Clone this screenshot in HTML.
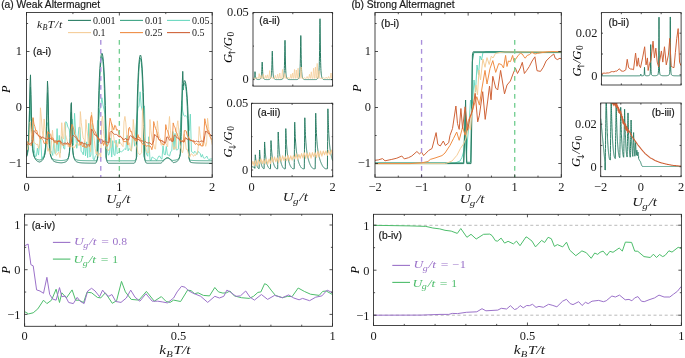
<!DOCTYPE html>
<html><head><meta charset="utf-8"><style>
html,body{margin:0;padding:0;background:#fff;width:685px;height:358px;overflow:hidden;font-family:"Liberation Sans",sans-serif;}
svg{display:block;will-change:transform}
</style></head><body>
<svg width="685" height="358" viewBox="0 0 685 358"><text x="1.2" y="8.2" font-family='"Liberation Sans", sans-serif' font-size="10.25" text-anchor="start" fill="#1a1a1a"  stroke="#1a1a1a" stroke-width="0.2">(a) Weak Altermagnet</text>
<text x="351.4" y="8.2" font-family='"Liberation Sans", sans-serif' font-size="10.25" text-anchor="start" fill="#1a1a1a"  stroke="#1a1a1a" stroke-width="0.2">(b) Strong Altermagnet</text>
<clipPath id="ca1"><rect x="26.5" y="12.5" width="185.7" height="164.8"/></clipPath>
<polyline clip-path="url(#ca1)" points="26.5,148.71 27.59,145.36 28.68,138.4 29.78,99.72 30.87,120.28 31.96,121.6 33.05,118.32 34.15,149.55 35.24,156.52 36.33,156.21 37.42,148.21 38.52,155.08 39.61,143.43 40.7,137.47 41.79,158.78 42.89,156.85 43.98,155.15 45.07,149.3 46.16,143.13 47.25,122.54 48.35,127.03 49.44,134.6 50.53,150.15 51.62,152.34 52.72,155.45 53.81,140.43 54.9,153.59 55.99,152.91 57.09,128.64 58.18,151.39 59.27,135.41 60.36,152.86 61.46,136.67 62.55,140.94 63.64,148.31 64.73,149.07 65.82,121.66 66.92,123.13 68.01,127.6 69.1,128.64 70.19,136.78 71.29,125.69 72.38,119.09 73.47,145.16 74.56,113.29 75.66,133.57 76.75,148.27 77.84,139.9 78.93,127.29 80.03,127.42 81.12,151.44 82.21,152.22 83.3,154.77 84.39,141.57 85.49,155.79 86.58,141.89 87.67,157.63 88.76,123.31 89.86,157.07 90.95,155.08 92.04,124.48 93.13,158.94 94.23,159.88 95.32,156.04 96.41,155.02 97.5,120.71 98.6,119.33 99.69,109.88 100.78,105.79 101.87,97.72 102.96,104.75 104.06,109.65 105.15,114.61 106.24,128.55 107.33,149.91 108.43,155.26 109.52,153.52 110.61,137.93 111.7,157.06 112.8,140.65 113.89,154.7 114.98,155.44 116.07,140.15 117.17,153.8 118.26,152.29 119.35,152.86 120.44,151.27 121.53,151.81 122.63,151.08 123.72,149.73 124.81,148.58 125.9,149.59 127,135.44 128.09,150.91 129.18,148.54 130.27,149.67 131.37,151.19 132.46,134.67 133.55,136.6 134.64,146.23 135.74,129.9 136.83,119.17 137.92,107.37 139.01,106.64 140.1,91.82 141.2,105.88 142.29,110.36 143.38,115.47 144.47,105.87 145.57,149.97 146.66,154.53 147.75,156.24 148.84,136.74 149.94,159.77 151.03,160.59 152.12,156.94 153.21,157.66 154.31,158.46 155.4,158.9 156.49,160.59 157.58,158.55 158.67,156.27 159.77,156.07 160.86,158.39 161.95,159.12 163.04,145.69 164.14,154.36 165.23,154.89 166.32,146.41 167.41,154.76 168.51,155.17 169.6,156.05 170.69,151.6 171.78,150.83 172.88,131.49 173.97,149.49 175.06,133.41 176.15,149.75 177.24,150.06 178.34,148.96 179.43,134.61 180.52,127.43 181.61,100.78 182.71,111.09 183.8,115.55 184.89,116.27 185.98,115.58 187.08,116.75 188.17,124.1 189.26,130.59 190.35,114.12 191.45,151.65 192.54,152.19 193.63,153.39 194.72,151.2 195.81,152.29 196.91,154.56 198,151.49 199.09,152.3 200.18,153.46 201.28,157.13 202.37,154.49 203.46,157.9 204.55,158.21 205.65,157.66 206.74,156 207.83,158.52 208.92,159.77 210.02,158.92 211.11,159.21 212.2,158.35" fill="none" stroke="#6bd9c0" stroke-width="0.9" stroke-linejoin="round" />
<polyline clip-path="url(#ca1)" points="26.5,156.81 27,155.64 27.5,153.89 28,151.13 28.5,146.49 29,138.15 29.5,122.61 29.99,98.27 30.49,87.07 30.99,107.9 31.49,129.56 31.99,141.89 32.49,148.53 32.99,152.32 33.49,154.63 33.99,156.13 34.49,157.15 34.99,157.87 35.49,158.4 35.98,158.8 36.48,159.11 36.98,159.35 37.48,159.54 37.98,159.7 38.48,159.83 38.98,159.94 39.48,160.03 39.98,159.93 40.48,159.8 40.98,159.65 41.48,159.46 41.97,159.22 42.47,158.9 42.97,158.48 43.47,157.92 43.97,157.11 44.47,155.93 44.97,154.1 45.47,151.08 45.97,145.7 46.47,135.37 46.97,115.63 47.47,92.63 47.97,101.71 48.46,126.2 48.96,141.04 49.46,148.61 49.96,152.68 50.46,155.05 50.96,156.54 51.46,157.52 51.96,158.2 52.46,158.69 52.96,159.06 53.46,159.34 53.96,159.55 54.45,159.73 54.95,159.86 55.45,159.98 55.95,160.07 56.45,160.15 56.95,160.22 57.45,160.28 57.95,160.32 58.45,160.37 58.95,160.4 59.45,160.44 59.95,160.47 60.45,160.49 60.94,160.51 61.44,160.51 61.94,160.48 62.44,160.44 62.94,160.4 63.44,160.35 63.94,160.28 64.44,160.21 64.94,160.11 65.44,159.99 65.94,159.83 66.44,159.62 66.93,159.33 67.43,158.93 67.93,158.35 68.43,157.44 68.93,155.95 69.43,153.26 69.93,147.87 70.43,135.94 70.93,113.78 71.43,111.92 71.93,134.35 72.43,147.16 72.92,152.93 73.42,155.77 73.92,157.34 74.42,158.28 74.92,158.89 75.42,159.3 75.92,159.6 76.42,159.81 76.92,159.97 77.42,160.1 77.92,160.2 78.42,160.28 78.92,160.34 79.41,160.4 79.91,160.44 80.41,160.48 80.91,160.51 81.41,160.54 81.91,160.56 82.41,160.58 82.91,160.6 83.41,160.62 83.91,160.63 84.41,160.64 84.91,160.65 85.4,160.66 85.9,160.67 86.4,160.68 86.9,160.69 87.4,160.7 87.9,160.7 88.4,160.71 88.9,160.71 89.4,160.72 89.9,160.72 90.4,160.73 90.9,160.73 91.4,160.73 91.89,160.74 92.39,160.74 92.89,160.74 93.39,160.74 93.89,160.75 94.39,160.75 94.89,160.75 95.39,160.75 95.89,160.76 96.39,160.55 96.89,159.91 97.39,158.86 97.88,157.42 98.38,143.69 98.88,108.93 99.38,90.03 99.88,76.93 100.38,67.66 100.88,61.38 101.38,57.7 101.88,56.43 102.38,57.5 102.88,60.96 103.38,67 103.88,75.99 104.37,88.7 104.87,106.94 105.37,138.59 105.87,157.28 106.37,158.75 106.87,159.83 107.37,160.51 107.87,160.78 108.37,160.78 108.87,160.78 109.37,160.78 109.87,160.78 110.36,160.78 110.86,160.78 111.36,160.78 111.86,160.78 112.36,160.78 112.86,160.78 113.36,160.78 113.86,160.78 114.36,160.79 114.86,160.79 115.36,160.79 115.86,160.79 116.35,160.79 116.85,160.79 117.35,160.79 117.85,160.79 118.35,160.79 118.85,160.79 119.35,160.79 119.85,160.79 120.35,160.79 120.85,160.79 121.35,160.79 121.85,160.79 122.35,160.79 122.84,160.79 123.34,160.79 123.84,160.79 124.34,160.79 124.84,160.79 125.34,160.79 125.84,160.79 126.34,160.79 126.84,160.79 127.34,160.79 127.84,160.79 128.34,160.79 128.83,160.79 129.33,160.79 129.83,160.79 130.33,160.79 130.83,160.79 131.33,160.79 131.83,160.79 132.33,160.79 132.83,160.79 133.33,160.78 133.83,160.78 134.33,160.78 134.82,160.72 135.32,160.26 135.82,159.4 136.32,158.14 136.82,156.49 137.32,120.92 137.82,97.44 138.32,82.13 138.82,71.46 139.32,64.24 139.82,59.91 140.32,58.21 140.82,59.05 141.31,62.48 141.81,68.68 142.31,78.1 142.81,91.65 143.31,111.61 143.81,155.84 144.31,157.63 144.81,159.02 145.31,160.01 145.81,160.61 146.31,160.77 146.81,160.77 147.3,160.77 147.8,160.77 148.3,160.77 148.8,160.77 149.3,160.77 149.8,160.77 150.3,160.76 150.8,160.76 151.3,160.76 151.8,160.76 152.3,160.76 152.8,160.76 153.3,160.76 153.79,160.76 154.29,160.75 154.79,160.75 155.29,160.75 155.79,160.75 156.29,160.75 156.79,160.75 157.29,160.74 157.79,160.74 158.29,160.74 158.79,160.74 159.29,160.73 159.78,160.73 160.28,160.73 160.78,160.72 161.28,160.72 161.78,160.72 162.28,160.59 162.78,160.38 163.28,160.12 163.78,159.81 164.28,159.49 164.78,159.16 165.28,158.86 165.77,158.59 166.27,158.37 166.77,158.22 167.27,158.14 167.77,158.15 168.27,158.23 168.77,158.39 169.27,158.61 169.77,158.88 170.27,159.19 170.77,159.52 171.27,159.84 171.77,160.14 172.26,160.4 172.76,160.42 173.26,160.38 173.76,160.33 174.26,160.28 174.76,160.21 175.26,160.13 175.76,160.02 176.26,159.9 176.76,159.74 177.26,159.54 177.76,159.27 178.25,158.91 178.75,158.4 179.25,157.66 179.75,156.52 180.25,154.67 180.75,151.36 181.25,136.52 181.75,117.09 182.25,98.03 182.75,84.76 183.25,90.06 183.75,85.93 184.25,83.59 184.74,82.92 185.24,83.88 185.74,86.53 186.24,91 186.74,97.55 187.24,106.74 187.74,119.81 188.24,141.97 188.74,157.21 189.24,158.71 189.74,159.8 190.24,160.18 190.73,160.25 191.23,160.31 191.73,160.36 192.23,160.41 192.73,160.44 193.23,160.48 193.73,160.51 194.23,160.53 194.73,160.55 195.23,160.57 195.73,160.59 196.23,160.6 196.72,160.62 197.22,160.63 197.72,160.64 198.22,160.65 198.72,160.66 199.22,160.67 199.72,160.68 200.22,160.68 200.72,160.69 201.22,160.69 201.72,160.7 202.22,160.7 202.72,160.71 203.21,160.71 203.71,160.72 204.21,160.72 204.71,160.73 205.21,160.73 205.71,160.73 206.21,160.73 206.71,160.74 207.21,160.74 207.71,160.74 208.21,160.74 208.71,160.75 209.2,160.75 209.7,160.75 210.2,160.75 210.7,160.75 211.2,160.76 211.7,160.76 212.2,160.76" fill="none" stroke="#3da484" stroke-width="1.0" stroke-linejoin="round" />
<polyline clip-path="url(#ca1)" points="26.5,156.82 27,154.97 27.5,152.25 28,148.04 28.5,141.23 29,129.72 29.5,110.47 29.99,85 30.49,74.85 30.99,94.48 31.49,118.75 31.99,134.77 32.49,144.2 32.99,149.85 33.49,153.4 33.99,155.75 34.49,157.36 34.99,158.52 35.49,159.37 35.98,160.02 36.48,160.52 36.98,160.91 37.48,161.23 37.98,161.49 38.48,161.7 38.98,161.88 39.48,162.03 39.98,161.86 40.48,161.66 40.98,161.41 41.48,161.09 41.97,160.7 42.47,160.18 42.97,159.51 43.47,158.59 43.97,157.3 44.47,155.43 44.97,152.58 45.47,147.99 45.97,140.18 46.47,126.29 46.97,103.28 47.47,81.05 47.97,89.32 48.46,115.07 48.96,133.73 49.46,144.34 49.96,150.41 50.46,154.06 50.96,156.39 51.46,157.96 51.96,159.05 52.46,159.85 52.96,160.44 53.46,160.89 53.96,161.25 54.45,161.53 54.95,161.76 55.45,161.94 55.95,162.1 56.45,162.23 56.95,162.34 57.45,162.43 57.95,162.51 58.45,162.58 58.95,162.64 59.45,162.7 59.95,162.75 60.45,162.79 60.94,162.83 61.44,162.82 61.94,162.77 62.44,162.71 62.94,162.63 63.44,162.55 63.94,162.44 64.44,162.31 64.94,162.15 65.44,161.95 65.94,161.68 66.44,161.34 66.93,160.87 67.43,160.21 67.93,159.26 68.43,157.81 68.93,155.45 69.43,151.33 69.93,143.49 70.43,127.97 70.93,104.37 71.43,102.65 71.93,126.06 72.43,142.5 72.92,150.82 73.42,155.17 73.92,157.64 74.42,159.16 74.92,160.14 75.42,160.82 75.92,161.3 76.42,161.66 76.92,161.93 77.42,162.13 77.92,162.3 78.42,162.43 78.92,162.54 79.41,162.63 79.91,162.7 80.41,162.76 80.91,162.82 81.41,162.86 81.91,162.9 82.41,162.94 82.91,162.97 83.41,162.99 83.91,163.02 84.41,163.04 84.91,163.06 85.4,163.07 85.9,163.09 86.4,163.1 86.9,163.11 87.4,163.13 87.9,163.14 88.4,163.15 88.9,163.15 89.4,163.16 89.9,163.17 90.4,163.18 90.9,163.18 91.4,163.19 91.89,163.19 92.39,163.2 92.89,163.2 93.39,163.21 93.89,163.21 94.39,163.21 94.89,163.22 95.39,163.22 95.89,162.92 96.39,162.17 96.89,161.03 97.39,159.48 97.88,134.18 98.38,107.35 98.88,90.3 99.38,77.84 99.88,68.52 100.38,61.68 100.88,56.97 101.38,54.17 101.88,53.2 102.38,54.02 102.88,56.65 103.38,61.19 103.88,67.83 104.37,76.92 104.87,89.06 105.37,105.61 105.87,131 106.37,159.33 106.87,160.91 107.37,162.09 107.87,162.87 108.37,163.26 108.87,163.27 109.37,163.27 109.87,163.27 110.36,163.27 110.86,163.27 111.36,163.27 111.86,163.27 112.36,163.27 112.86,163.27 113.36,163.27 113.86,163.27 114.36,163.28 114.86,163.28 115.36,163.28 115.86,163.28 116.35,163.28 116.85,163.28 117.35,163.28 117.85,163.28 118.35,163.28 118.85,163.28 119.35,163.28 119.85,163.28 120.35,163.28 120.85,163.28 121.35,163.28 121.85,163.28 122.35,163.28 122.84,163.28 123.34,163.28 123.84,163.28 124.34,163.28 124.84,163.28 125.34,163.28 125.84,163.28 126.34,163.28 126.84,163.28 127.34,163.28 127.84,163.28 128.34,163.28 128.83,163.28 129.33,163.28 129.83,163.28 130.33,163.28 130.83,163.28 131.33,163.28 131.83,163.28 132.33,163.28 132.83,163.28 133.33,163.28 133.83,163.27 134.33,163.15 134.82,162.62 135.32,161.68 135.82,160.34 136.32,158.6 136.82,119 137.32,98.02 137.82,83.49 138.32,72.81 138.82,65.02 139.32,59.61 139.82,56.32 140.32,55.03 140.82,55.67 141.31,58.27 141.81,62.95 142.31,69.9 142.81,79.54 143.31,92.61 143.81,110.89 144.31,142.3 144.81,159.8 145.31,161.27 145.81,162.34 146.31,163.02 146.81,163.25 147.3,163.25 147.8,163.25 148.3,163.25 148.8,163.25 149.3,163.25 149.8,163.24 150.3,163.24 150.8,163.24 151.3,163.24 151.8,163.24 152.3,163.23 152.8,163.23 153.3,163.23 153.79,163.23 154.29,163.22 154.79,163.22 155.29,163.22 155.79,163.22 156.29,163.21 156.79,163.21 157.29,163.21 157.79,163.2 158.29,163.2 158.79,163.19 159.29,163.19 159.78,163.18 160.28,163.18 160.78,163.15 161.28,162.91 161.78,162.56 162.28,162.12 162.78,161.61 163.28,161.05 163.78,160.47 164.28,159.89 164.78,159.33 165.28,158.83 165.77,158.4 166.27,158.06 166.77,157.83 167.27,157.71 167.77,157.72 168.27,157.84 168.77,158.09 169.27,158.43 169.77,158.87 170.27,159.38 170.77,159.94 171.27,160.52 171.77,161.1 172.26,161.65 172.76,162.16 173.26,162.59 173.76,162.53 174.26,162.44 174.76,162.32 175.26,162.19 175.76,162.02 176.26,161.82 176.76,161.56 177.26,161.23 177.76,160.79 178.25,160.2 178.75,159.37 179.25,158.18 179.75,156.38 180.25,153.46 180.75,132.73 181.25,116.42 181.75,105.2 182.25,83.66 182.75,71.35 183.25,85.96 183.75,82.82 184.25,81.02 184.74,80.5 185.24,81.25 185.74,83.28 186.24,86.67 186.74,91.55 187.24,98.17 187.74,106.95 188.24,118.83 188.74,136.7 189.24,159.2 189.74,160.81 190.24,162.02 190.73,162.39 191.23,162.49 191.73,162.58 192.23,162.65 192.73,162.71 193.23,162.77 193.73,162.81 194.23,162.85 194.73,162.89 195.23,162.92 195.73,162.95 196.23,162.97 196.72,163 197.22,163.02 197.72,163.04 198.22,163.05 198.72,163.07 199.22,163.08 199.72,163.09 200.22,163.11 200.72,163.12 201.22,163.13 201.72,163.13 202.22,163.14 202.72,163.15 203.21,163.16 203.71,163.16 204.21,163.17 204.71,163.18 205.21,163.18 205.71,163.19 206.21,163.19 206.71,163.2 207.21,163.2 207.71,163.2 208.21,163.21 208.71,163.21 209.2,163.21 209.7,163.22 210.2,163.22 210.7,163.22 211.2,163.23 211.7,163.23 212.2,163.23" fill="none" stroke="#2a7d64" stroke-width="1.0" stroke-linejoin="round" />
<polyline clip-path="url(#ca1)" points="26.5,145.76 27.43,149.57 28.36,144.02 29.29,142.14 30.21,121.89 31.14,130.58 32.07,139.86 33,138.12 33.93,142.67 34.86,142.92 35.78,143.89 36.71,144.97 37.64,143.9 38.57,148.45 39.5,144.73 40.43,107.8 41.36,118.02 42.28,130.31 43.21,138.37 44.14,118.95 45.07,128.99 46,136.14 46.93,142.87 47.86,151.26 48.78,148.45 49.71,153.72 50.64,153.63 51.57,140.42 52.5,130.22 53.43,141.9 54.35,146.8 55.28,151.5 56.21,155.31 57.14,154.7 58.07,152.72 59,152.46 59.93,157.64 60.85,145.04 61.78,122.7 62.71,137.99 63.64,139.1 64.57,122.63 65.5,134.66 66.43,137.62 67.35,141.77 68.28,146.9 69.21,143.41 70.14,147.55 71.07,143.56 72,146.95 72.92,146.79 73.85,148.04 74.78,147.2 75.71,145.02 76.64,143.13 77.57,142.89 78.5,145.29 79.42,145.41 80.35,111.58 81.28,122.74 82.21,130.23 83.14,137.92 84.07,139.46 85,142.71 85.92,119.54 86.85,129.49 87.78,136.78 88.71,143.01 89.64,146.42 90.57,151.8 91.49,112.17 92.42,119.12 93.35,133.24 94.28,140.17 95.21,148.55 96.14,153.94 97.07,151.56 97.99,156.38 98.92,154.44 99.85,153.18 100.78,157.85 101.71,120.07 102.64,116.26 103.57,131.71 104.49,138.89 105.42,144.94 106.35,147.96 107.28,149.23 108.21,150.84 109.14,149.09 110.06,147.65 110.99,147.11 111.92,123.83 112.85,132.64 113.78,137.23 114.71,143.08 115.64,143 116.56,145.13 117.49,147.2 118.42,141.9 119.35,141.72 120.28,142.53 121.21,144.11 122.14,145.39 123.06,146.65 123.99,121.92 124.92,116.41 125.85,122.88 126.78,135.89 127.71,137.5 128.63,145.19 129.56,142.79 130.49,150.38 131.42,150.71 132.35,143.96 133.28,119.42 134.21,129.68 135.13,142.82 136.06,145.26 136.99,146.89 137.92,152.61 138.85,153.73 139.78,154.8 140.71,153.72 141.63,152.7 142.56,108.05 143.49,125.64 144.42,135.14 145.35,144.09 146.28,150.07 147.2,152.47 148.13,152.3 149.06,152.38 149.99,119.53 150.92,130.7 151.85,137.94 152.78,143.68 153.7,143.95 154.63,148.76 155.56,149.03 156.49,136.16 157.42,120.83 158.35,131.63 159.28,137.2 160.2,138.17 161.13,145.14 162.06,144.84 162.99,143.88 163.92,145.44 164.85,142.67 165.77,143.08 166.7,145.13 167.63,146.77 168.56,129.38 169.49,116.46 170.42,130.32 171.35,138.86 172.27,142.46 173.2,146.8 174.13,149.49 175.06,146.75 175.99,148.64 176.92,126.37 177.85,120.75 178.77,130.4 179.7,142.57 180.63,147.81 181.56,149.68 182.49,152.94 183.42,149.07 184.34,134.23 185.27,140.36 186.2,149.41 187.13,149.11 188.06,152.34 188.99,157.12 189.92,157.07 190.84,154.04 191.77,153.79 192.7,155.4 193.63,156.29 194.56,154.75 195.49,155.58 196.42,153.6 197.34,153.39 198.27,146.4 199.2,126.55 200.13,134.98 201.06,139.98 201.99,142.78 202.91,145.99 203.84,143.21 204.77,142.26 205.7,146.3 206.63,143.06 207.56,118.29 208.49,126.22 209.41,136.62 210.34,137.22 211.27,139.94 212.2,144.84" fill="none" stroke="#f5cd98" stroke-width="0.9" stroke-linejoin="round" />
<polyline clip-path="url(#ca1)" points="26.5,144.66 27.43,141.58 28.36,142.94 29.29,144.46 30.21,144.4 31.14,145.72 32.07,142.6 33,117.58 33.93,124.04 34.86,126.67 35.78,130.86 36.71,130.35 37.64,133.96 38.57,134.89 39.5,137.58 40.43,138.95 41.36,137.73 42.28,139.4 43.21,140.35 44.14,143.47 45.07,143.35 46,141.32 46.93,144.2 47.86,131.6 48.78,133.34 49.71,133.26 50.64,134.35 51.57,139.17 52.5,137.66 53.43,138.66 54.35,142.56 55.28,142.84 56.21,141.13 57.14,144.37 58.07,140.22 59,141.61 59.93,140.45 60.85,144.05 61.78,143.63 62.71,145.26 63.64,145.45 64.57,143.51 65.5,144.17 66.43,143.77 67.35,144.04 68.28,144.05 69.21,145.31 70.14,146.81 71.07,130.63 72,124.37 72.92,126.75 73.85,129.84 74.78,134.62 75.71,135.62 76.64,136.97 77.57,139.36 78.5,141.73 79.42,140.4 80.35,145.15 81.28,142.25 82.21,145.94 83.14,146.98 84.07,144.22 85,147.76 85.92,146.46 86.85,147.62 87.78,145.59 88.71,145.94 89.64,146.62 90.57,118.22 91.49,115.22 92.42,122.46 93.35,127.36 94.28,130.92 95.21,131.47 96.14,133.97 97.07,136.69 97.99,139.38 98.92,138.1 99.85,141.8 100.78,142.93 101.71,143.94 102.64,141.25 103.57,145.37 104.49,142.33 105.42,143.62 106.35,144.92 107.28,146.31 108.21,144.12 109.14,127.98 110.06,118.2 110.99,121.57 111.92,125.18 112.85,127.63 113.78,129.75 114.71,125.33 115.64,125.93 116.56,130.26 117.49,129.52 118.42,131.25 119.35,136.85 120.28,136.6 121.21,137.41 122.14,137.87 123.06,140.26 123.99,142.02 124.92,141.26 125.85,141.75 126.78,140.85 127.71,144.78 128.63,128.56 129.56,127.31 130.49,131.56 131.42,131.18 132.35,135.7 133.28,138.4 134.21,138.69 135.13,140.69 136.06,139.16 136.99,141.51 137.92,134.55 138.85,138.11 139.78,137.57 140.71,139.65 141.63,143.09 142.56,143.61 143.49,145.06 144.42,143.81 145.35,144.69 146.28,146.29 147.2,145.85 148.13,145.58 149.06,146.45 149.99,145.79 150.92,147.02 151.85,149.72 152.78,145.77 153.7,121.54 154.63,125.38 155.56,128.4 156.49,130.5 157.42,133.84 158.35,138.07 159.28,140.24 160.2,139.74 161.13,142.71 162.06,143.71 162.99,144.24 163.92,144.82 164.85,140.93 165.77,124.63 166.7,129.54 167.63,130.8 168.56,134.08 169.49,137.25 170.42,138.61 171.35,138.4 172.27,141.82 173.2,122.92 174.13,126.44 175.06,127.32 175.99,132.08 176.92,133.07 177.85,136.56 178.77,137.22 179.7,139.87 180.63,140.22 181.56,141.66 182.49,140.56 183.42,142.33 184.34,130.61 185.27,130.53 186.2,131.08 187.13,135.12 188.06,136.97 188.99,137.71 189.92,140.11 190.84,141.09 191.77,140.24 192.7,141.06 193.63,140.29 194.56,143.56 195.49,144.49 196.42,143.11 197.34,144.39 198.27,144.88 199.2,145.27 200.13,143.36 201.06,146.1 201.99,145.59 202.91,146.2 203.84,135.9 204.77,118.73 205.7,123.76 206.63,127 207.56,130.58 208.49,130.59 209.41,133.5 210.34,136.68 211.27,139.28 212.2,139.07" fill="none" stroke="#ef8d44" stroke-width="0.95" stroke-linejoin="round" />
<polyline clip-path="url(#ca1)" points="26.5,145.13 27.43,144.84 28.36,143.48 29.29,144.17 30.21,143.5 31.14,142.98 32.07,142.97 33,140.67 33.93,130.51 34.86,131.66 35.78,132.34 36.71,134.08 37.64,134.68 38.57,135.84 39.5,136.41 40.43,136.24 41.36,138.06 42.28,136.69 43.21,137.89 44.14,137.99 45.07,138.57 46,138.28 46.93,139.98 47.86,139.32 48.78,137.53 49.71,138.98 50.64,138.28 51.57,139.49 52.5,139.37 53.43,140.13 54.35,141.16 55.28,141.14 56.21,140.59 57.14,141.63 58.07,141.53 59,141.23 59.93,141.02 60.85,142.16 61.78,142.34 62.71,143.36 63.64,143.62 64.57,143.14 65.5,142.86 66.43,144.17 67.35,142.62 68.28,143.06 69.21,144.2 70.14,144.52 71.07,143.79 72,137.56 72.92,135.5 73.85,135.59 74.78,136.74 75.71,137.28 76.64,138.28 77.57,140.45 78.5,140 79.42,141.84 80.35,142.36 81.28,142.29 82.21,142.14 83.14,144.04 84.07,143.49 85,143.71 85.92,143.85 86.85,145.48 87.78,144.76 88.71,144.58 89.64,145.15 90.57,144.61 91.49,128.96 92.42,130.28 93.35,131.57 94.28,133.97 95.21,135.33 96.14,134.83 97.07,136.87 97.99,137.23 98.92,139.32 99.85,139.69 100.78,139.2 101.71,139.75 102.64,139.96 103.57,142 104.49,140.92 105.42,141.8 106.35,141.75 107.28,142.25 108.21,142.3 109.14,142.68 110.06,132.43 110.99,131.29 111.92,131.6 112.85,133.15 113.78,133.71 114.71,134.47 115.64,134.4 116.56,134.47 117.49,135.03 118.42,136.48 119.35,136.77 120.28,136.19 121.21,137.09 122.14,137.91 123.06,139.19 123.99,139.46 124.92,139.07 125.85,138.27 126.78,140.04 127.71,139.56 128.63,140.07 129.56,136.2 130.49,135.67 131.42,136.02 132.35,137.48 133.28,136.98 134.21,137.5 135.13,138.9 136.06,138.03 136.99,138.65 137.92,140.12 138.85,138.97 139.78,140.87 140.71,140.94 141.63,140.75 142.56,140.78 143.49,142.08 144.42,142.65 145.35,141.41 146.28,142.38 147.2,142.8 148.13,142.98 149.06,142.92 149.99,142.83 150.92,143.95 151.85,144.65 152.78,143.41 153.7,141.01 154.63,134.37 155.56,135.52 156.49,136.38 157.42,136.14 158.35,138.48 159.28,139.86 160.2,140.69 161.13,140.83 162.06,140.19 162.99,142.38 163.92,141.69 164.85,143.04 165.77,142.64 166.7,137.05 167.63,136.92 168.56,138.16 169.49,140.25 170.42,139.46 171.35,141.05 172.27,141.26 173.2,141.28 174.13,135.3 175.06,135.28 175.99,136.42 176.92,137.86 177.85,138.04 178.77,138.7 179.7,140.35 180.63,141.21 181.56,141.93 182.49,140.83 183.42,141.75 184.34,141.79 185.27,137.74 186.2,138.01 187.13,139.55 188.06,138.97 188.99,138.81 189.92,140.49 190.84,139.73 191.77,140.97 192.7,140.95 193.63,141.95 194.56,141.38 195.49,141.63 196.42,141.01 197.34,141.65 198.27,141.1 199.2,142.12 200.13,141.67 201.06,140.9 201.99,141.1 202.91,141.37 203.84,142.1 204.77,135.88 205.7,130.94 206.63,131.94 207.56,131.8 208.49,133.87 209.41,133.53 210.34,134.34 211.27,135.95 212.2,135.85" fill="none" stroke="#cf6338" stroke-width="0.95" stroke-linejoin="round" />
<path d="M100.78 40V177.3" stroke="#a98fdb" stroke-width="1.35" stroke-dasharray="4.8 4.2" stroke-dashoffset="0" fill="none"/>
<path d="M119.35 40V177.3" stroke="#74cf92" stroke-width="1.35" stroke-dasharray="4.8 4.2" stroke-dashoffset="0" fill="none"/>
<path d="M26.5 177.3v-3 M26.5 12.5v3 M119.35 177.3v-3 M119.35 12.5v3 M212.2 177.3v-3 M212.2 12.5v3 M72.92 177.3v-1.6 M72.92 12.5v1.6 M165.77 177.3v-1.6 M165.77 12.5v1.6 M26.5 163.5h3 M212.2 163.5h-3 M26.5 107.5h3 M212.2 107.5h-3 M26.5 51.5h3 M212.2 51.5h-3 M26.5 135.5h1.6 M212.2 135.5h-1.6 M26.5 79.5h1.6 M212.2 79.5h-1.6 M26.5 23.5h1.6 M212.2 23.5h-1.6" stroke="#262626" stroke-width="0.8" fill="none"/>
<rect x="26.5" y="12.5" width="185.7" height="164.8" fill="none" stroke="#262626" stroke-width="0.85"/>
<text x="22" y="55.1" font-family='"Liberation Serif", serif' font-size="12.4" text-anchor="end" fill="#1a1a1a"  >1</text>
<text x="22" y="111.1" font-family='"Liberation Serif", serif' font-size="12.4" text-anchor="end" fill="#1a1a1a"  >0</text>
<text x="22" y="167.1" font-family='"Liberation Serif", serif' font-size="12.4" text-anchor="end" fill="#1a1a1a"  >−1</text>
<text x="26.5" y="190.9" font-family='"Liberation Serif", serif' font-size="12.4" text-anchor="middle" fill="#1a1a1a"  >0</text>
<text x="119.35" y="190.9" font-family='"Liberation Serif", serif' font-size="12.4" text-anchor="middle" fill="#1a1a1a"  >1</text>
<text x="212.2" y="190.9" font-family='"Liberation Serif", serif' font-size="12.4" text-anchor="middle" fill="#1a1a1a"  >2</text>
<text transform="translate(106.3 203.1) scale(1.15 1)" x="0" y="0" font-family='"Liberation Serif", serif' font-size="12.5" fill="#1a1a1a" font-style="italic">U<tspan font-size="9.25" dy="3" dx="-0.5">g</tspan><tspan dy="-3" dx="0.75">/t</tspan></text>
<g transform="translate(5.3 89.3) rotate(-90)"><text x="0" y="4.2" font-family='"Liberation Serif", serif' font-size="12.5" font-style="italic" text-anchor="middle">P</text></g>
<text x="33" y="55.2" font-family='"Liberation Sans", sans-serif' font-size="10.3" text-anchor="start" fill="#1a1a1a"  stroke="#1a1a1a" stroke-width="0.2">(a-i)</text>
<text transform="translate(37 28) scale(1.1 1)" x="0" y="0" font-family='"Liberation Serif", serif' font-size="10.6" fill="#1a1a1a" font-style="italic">k<tspan font-size="7.42" dy="2.33" dx="0.21">B</tspan><tspan dy="-2.33" dx="0.42" letter-spacing="0.6">T/t</tspan></text>
<path d="M68 20.4h23" stroke="#2a7d64" stroke-width="1.1"/>
<text x="93" y="23.8" font-family='"Liberation Serif", serif' font-size="10" text-anchor="start" fill="#1a1a1a"  >0.001</text>
<path d="M120 20.4h23" stroke="#3da484" stroke-width="1.1"/>
<text x="145" y="23.8" font-family='"Liberation Serif", serif' font-size="10" text-anchor="start" fill="#1a1a1a"  >0.01</text>
<path d="M167 20.4h23" stroke="#6bd9c0" stroke-width="1.1"/>
<text x="192" y="23.8" font-family='"Liberation Serif", serif' font-size="10" text-anchor="start" fill="#1a1a1a"  >0.05</text>
<path d="M68 32.6h23" stroke="#f5cd98" stroke-width="1.1"/>
<text x="93" y="36" font-family='"Liberation Serif", serif' font-size="10" text-anchor="start" fill="#1a1a1a"  >0.1</text>
<path d="M120 32.6h23" stroke="#ef8d44" stroke-width="1.1"/>
<text x="145" y="36" font-family='"Liberation Serif", serif' font-size="10" text-anchor="start" fill="#1a1a1a"  >0.25</text>
<path d="M167 32.6h23" stroke="#cf6338" stroke-width="1.1"/>
<text x="192" y="36" font-family='"Liberation Serif", serif' font-size="10" text-anchor="start" fill="#1a1a1a"  >0.5</text>
<clipPath id="ca2"><rect x="253" y="12.6" width="79.6" height="73.5"/></clipPath>
<polyline clip-path="url(#ca2)" points="253,79.36 253.1,79.32 253.2,79.28 253.3,79.24 253.4,79.18 253.5,79.12 253.6,79.04 253.7,78.94 253.8,78.83 253.9,78.69 254,78.51 254.09,78.28 254.19,77.99 254.29,77.61 254.39,77.11 254.49,76.44 254.59,75.58 254.69,74.5 254.79,73.28 254.89,72.21 254.99,71.7 255,71.7 255.09,72.04 255.19,73.04 255.29,74.26 255.39,75.38 255.49,76.29 255.59,76.99 255.69,77.52 255.79,77.92 255.89,78.23 255.99,78.47 256.08,78.65 256.18,78.8 256.28,78.92 256.38,79.02 256.48,79.1 256.58,79.17 256.68,79.23 256.78,79.27 256.88,79.32 256.98,79.35 257.08,79.38 257.18,79.41 257.28,79.43 257.38,79.45 257.48,79.47 257.58,79.49 257.68,79.5 257.78,79.52 257.88,79.53 257.98,79.54 258.07,79.55 258.17,79.56 258.27,79.57 258.37,79.57 258.47,79.58 258.57,79.58 258.67,79.56 258.77,79.55 258.87,79.53 258.97,79.52 259.07,79.5 259.17,79.48 259.27,79.46 259.37,79.43 259.47,79.4 259.57,79.37 259.67,79.34 259.77,79.3 259.87,79.26 259.96,79.21 260.06,79.15 260.16,79.09 260.26,79.01 260.36,78.93 260.46,78.83 260.56,78.72 260.66,78.58 260.76,78.42 260.86,78.22 260.96,77.98 261.06,77.69 261.16,77.32 261.26,76.86 261.36,76.27 261.46,75.5 261.56,74.49 261.66,73.16 261.76,71.41 261.86,69.17 261.95,66.53 262.05,63.92 262.15,62.22 262.2,62.01 262.25,62.3 262.35,64.1 262.45,66.74 262.55,69.36 262.65,71.56 262.75,73.27 262.85,74.58 262.95,75.56 263.05,76.32 263.15,76.9 263.25,77.35 263.35,77.71 263.45,78 263.55,78.24 263.65,78.43 263.75,78.59 263.85,78.72 263.94,78.84 264.04,78.94 264.14,79.02 264.24,79.09 264.34,79.16 264.44,79.21 264.54,79.26 264.64,79.3 264.74,79.34 264.84,79.37 264.94,79.4 265.04,79.43 265.14,79.46 265.24,79.48 265.34,79.5 265.44,79.52 265.54,79.54 265.64,79.55 265.74,79.57 265.84,79.58 265.94,79.59 266.03,79.6 266.13,79.6 266.23,79.6 266.33,79.6 266.43,79.6 266.53,79.6 266.63,79.6 266.73,79.6 266.83,79.6 266.93,79.6 267.03,79.6 267.13,79.6 267.23,79.6 267.33,79.6 267.43,79.6 267.53,79.6 267.63,79.6 267.73,79.6 267.83,79.6 267.93,79.6 268.02,79.6 268.12,79.6 268.22,79.6 268.32,79.6 268.42,79.6 268.52,79.59 268.62,79.57 268.72,79.55 268.82,79.53 268.92,79.51 269.02,79.48 269.12,79.45 269.22,79.42 269.32,79.39 269.42,79.35 269.52,79.3 269.62,79.26 269.72,79.2 269.82,79.15 269.92,79.08 270.01,79 270.11,78.92 270.21,78.82 270.31,78.71 270.41,78.59 270.51,78.44 270.61,78.27 270.71,78.06 270.81,77.82 270.91,77.54 271.01,77.19 271.11,76.76 271.21,76.23 271.31,75.57 271.41,74.72 271.51,73.64 271.61,72.22 271.71,70.35 271.81,67.88 271.91,64.66 272,60.68 272.1,56.3 272.2,52.59 272.3,51.15 272.3,51.15 272.4,52.76 272.5,56.56 272.6,60.94 272.7,64.88 272.8,68.05 272.9,70.47 273,72.31 273.1,73.71 273.2,74.78 273.3,75.61 273.4,76.27 273.5,76.79 273.6,77.21 273.7,77.56 273.8,77.84 273.89,78.08 273.99,78.28 274.09,78.45 274.19,78.6 274.29,78.72 274.39,78.83 274.49,78.93 274.59,79.01 274.69,79.08 274.79,79.15 274.89,79.21 274.99,79.26 275.09,79.31 275.19,79.35 275.29,79.39 275.39,79.42 275.49,79.45 275.59,79.48 275.69,79.51 275.79,79.53 275.88,79.56 275.98,79.58 276.08,79.6 276.18,79.6 276.28,79.6 276.38,79.6 276.48,79.6 276.58,79.6 276.68,79.6 276.78,79.6 276.88,79.6 276.98,79.6 277.08,79.6 277.18,79.6 277.28,79.6 277.38,79.6 277.48,79.6 277.58,79.6 277.68,79.6 277.78,79.6 277.88,79.6 277.97,79.6 278.07,79.6 278.17,79.6 278.27,79.6 278.37,79.6 278.47,79.6 278.57,79.6 278.67,79.6 278.77,79.6 278.87,79.6 278.97,79.6 279.07,79.6 279.17,79.6 279.27,79.6 279.37,79.6 279.47,79.6 279.57,79.6 279.67,79.6 279.77,79.6 279.87,79.6 279.96,79.6 280.06,79.6 280.16,79.6 280.26,79.6 280.36,79.6 280.46,79.6 280.56,79.6 280.66,79.6 280.76,79.6 280.86,79.6 280.96,79.6 281.06,79.6 281.16,79.6 281.26,79.58 281.36,79.56 281.46,79.53 281.56,79.49 281.66,79.46 281.76,79.42 281.86,79.38 281.95,79.33 282.05,79.28 282.15,79.23 282.25,79.17 282.35,79.1 282.45,79.02 282.55,78.94 282.65,78.84 282.75,78.74 282.85,78.61 282.95,78.48 283.05,78.31 283.15,78.13 283.25,77.91 283.35,77.66 283.45,77.37 283.55,77.01 283.65,76.58 283.75,76.07 283.85,75.43 283.94,74.64 284.04,73.64 284.14,72.36 284.24,70.71 284.34,68.54 284.44,65.68 284.54,61.92 284.64,57.08 284.74,51.27 284.84,45.32 284.94,41.09 285,40.28 285.04,40.62 285.14,44.18 285.24,49.95 285.34,55.89 285.44,60.97 285.54,64.95 285.64,67.99 285.74,70.29 285.84,72.04 285.93,73.39 286.03,74.44 286.13,75.27 286.23,75.94 286.33,76.48 286.43,76.93 286.53,77.29 286.63,77.6 286.73,77.86 286.83,78.09 286.93,78.28 287.03,78.44 287.13,78.59 287.23,78.71 287.33,78.82 287.43,78.92 287.53,79.01 287.63,79.08 287.73,79.15 287.82,79.22 287.92,79.27 288.02,79.32 288.12,79.37 288.22,79.41 288.32,79.45 288.42,79.49 288.52,79.52 288.62,79.55 288.72,79.58 288.82,79.6 288.92,79.6 289.02,79.6 289.12,79.6 289.22,79.6 289.32,79.6 289.42,79.6 289.52,79.6 289.62,79.6 289.72,79.6 289.81,79.6 289.91,79.6 290.01,79.6 290.11,79.6 290.21,79.6 290.31,79.6 290.41,79.6 290.51,79.6 290.61,79.6 290.71,79.6 290.81,79.6 290.91,79.6 291.01,79.6 291.11,79.6 291.21,79.6 291.31,79.6 291.41,79.6 291.51,79.6 291.61,79.6 291.71,79.6 291.81,79.6 291.9,79.6 292,79.6 292.1,79.6 292.2,79.6 292.3,79.6 292.4,79.6 292.5,79.6 292.6,79.6 292.7,79.6 292.8,79.6 292.9,79.6 293,79.6 293.1,79.6 293.2,79.6 293.3,79.6 293.4,79.6 293.5,79.6 293.6,79.6 293.7,79.6 293.8,79.6 293.89,79.6 293.99,79.6 294.09,79.6 294.19,79.6 294.29,79.6 294.39,79.6 294.49,79.6 294.59,79.6 294.69,79.6 294.79,79.6 294.89,79.6 294.99,79.6 295.09,79.6 295.19,79.6 295.29,79.6 295.39,79.6 295.49,79.6 295.59,79.6 295.69,79.6 295.79,79.6 295.88,79.6 295.98,79.6 296.08,79.6 296.18,79.6 296.28,79.6 296.38,79.6 296.48,79.6 296.58,79.6 296.68,79.6 296.78,79.6 296.88,79.6 296.98,79.6 297.08,79.57 297.18,79.54 297.28,79.51 297.38,79.47 297.48,79.43 297.58,79.39 297.68,79.34 297.78,79.29 297.87,79.23 297.97,79.17 298.07,79.1 298.17,79.02 298.27,78.94 298.37,78.84 298.47,78.73 298.57,78.61 298.67,78.47 298.77,78.3 298.87,78.12 298.97,77.91 299.07,77.66 299.17,77.36 299.27,77.02 299.37,76.61 299.47,76.11 299.57,75.5 299.67,74.76 299.76,73.83 299.86,72.65 299.96,71.15 300.06,69.19 300.16,66.62 300.26,63.23 300.36,58.77 300.46,53.1 300.56,46.44 300.66,39.97 300.76,35.94 300.8,35.54 300.86,36.41 300.96,41.13 301.06,47.79 301.16,54.3 301.26,59.74 301.36,63.97 301.46,67.18 301.56,69.62 301.66,71.47 301.75,72.91 301.85,74.03 301.95,74.92 302.05,75.63 302.15,76.22 302.25,76.69 302.35,77.09 302.45,77.43 302.55,77.71 302.65,77.95 302.75,78.16 302.85,78.34 302.95,78.49 303.05,78.63 303.15,78.75 303.25,78.86 303.35,78.95 303.45,79.04 303.55,79.12 303.65,79.18 303.75,79.25 303.84,79.3 303.94,79.35 304.04,79.4 304.14,79.44 304.24,79.48 304.34,79.52 304.44,79.55 304.54,79.58 304.64,79.6 304.74,79.6 304.84,79.6 304.94,79.6 305.04,79.6 305.14,79.6 305.24,79.6 305.34,79.6 305.44,79.6 305.54,79.6 305.64,79.6 305.74,79.6 305.83,79.6 305.93,79.6 306.03,79.6 306.13,79.6 306.23,79.6 306.33,79.6 306.43,79.6 306.53,79.6 306.63,79.6 306.73,79.6 306.83,79.6 306.93,79.6 307.03,79.6 307.13,79.6 307.23,79.6 307.33,79.6 307.43,79.6 307.53,79.6 307.63,79.6 307.73,79.6 307.82,79.6 307.92,79.6 308.02,79.6 308.12,79.6 308.22,79.6 308.32,79.6 308.42,79.6 308.52,79.6 308.62,79.6 308.72,79.6 308.82,79.6 308.92,79.6 309.02,79.6 309.12,79.6 309.22,79.6 309.32,79.6 309.42,79.6 309.52,79.6 309.62,79.6 309.72,79.6 309.81,79.6 309.91,79.6 310.01,79.6 310.11,79.6 310.21,79.6 310.31,79.6 310.41,79.6 310.51,79.6 310.61,79.6 310.71,79.6 310.81,79.6 310.91,79.6 311.01,79.6 311.11,79.6 311.21,79.6 311.31,79.6 311.41,79.6 311.51,79.6 311.61,79.6 311.71,79.6 311.8,79.6 311.9,79.6 312,79.6 312.1,79.6 312.2,79.6 312.3,79.6 312.4,79.6 312.5,79.6 312.6,79.6 312.7,79.6 312.8,79.6 312.9,79.6 313,79.6 313.1,79.6 313.2,79.6 313.3,79.6 313.4,79.6 313.5,79.6 313.6,79.6 313.69,79.6 313.79,79.6 313.89,79.6 313.99,79.6 314.09,79.6 314.19,79.6 314.29,79.6 314.39,79.6 314.49,79.6 314.59,79.6 314.69,79.6 314.79,79.6 314.89,79.6 314.99,79.6 315.09,79.6 315.19,79.6 315.29,79.6 315.39,79.6 315.49,79.6 315.59,79.6 315.69,79.6 315.78,79.6 315.88,79.6 315.98,79.6 316.08,79.6 316.18,79.6 316.28,79.56 316.38,79.52 316.48,79.47 316.58,79.42 316.68,79.37 316.78,79.31 316.88,79.24 316.98,79.17 317.08,79.09 317.18,79 317.28,78.91 317.38,78.8 317.48,78.68 317.58,78.54 317.68,78.39 317.77,78.22 317.87,78.03 317.97,77.8 318.07,77.55 318.17,77.25 318.27,76.9 318.37,76.5 318.47,76.02 318.57,75.44 318.67,74.75 318.77,73.91 318.87,72.87 318.97,71.58 319.07,69.94 319.17,67.84 319.27,65.11 319.37,61.53 319.47,56.8 319.57,50.58 319.67,42.69 319.76,33.47 319.86,24.59 319.96,19.2 320,18.74 320.06,20.09 320.16,26.76 320.26,36 320.36,44.95 320.46,52.4 320.56,58.19 320.66,62.58 320.76,65.91 320.86,68.45 320.96,70.42 321.06,71.95 321.16,73.17 321.26,74.15 321.36,74.95 321.46,75.61 321.56,76.15 321.66,76.61 321.75,77 321.85,77.33 321.95,77.62 322.05,77.86 322.15,78.08 322.25,78.27 322.35,78.43 322.45,78.58 322.55,78.71 322.65,78.83 322.75,78.93 322.85,79.03 322.95,79.11 323.05,79.19 323.15,79.26 323.25,79.33 323.35,79.38 323.45,79.44 323.55,79.49 323.64,79.53 323.74,79.57 323.84,79.6 323.94,79.6 324.04,79.6 324.14,79.6 324.24,79.6 324.34,79.6 324.44,79.6 324.54,79.6 324.64,79.6 324.74,79.6 324.84,79.6 324.94,79.6 325.04,79.6 325.14,79.6 325.24,79.6 325.34,79.6 325.44,79.6 325.54,79.6 325.63,79.6 325.73,79.6 325.83,79.6 325.93,79.6 326.03,79.6 326.13,79.6 326.23,79.6 326.33,79.6 326.43,79.6 326.53,79.6 326.63,79.6 326.73,79.6 326.83,79.6 326.93,79.6 327.03,79.6 327.13,79.6 327.23,79.6 327.33,79.6 327.43,79.6 327.53,79.6 327.62,79.6 327.72,79.6 327.82,79.6 327.92,79.6 328.02,79.6 328.12,79.6 328.22,79.6 328.32,79.6 328.42,79.6 328.52,79.6 328.62,79.6 328.72,79.6 328.82,79.6 328.92,79.6 329.02,79.6 329.12,79.6 329.22,79.6 329.32,79.6 329.42,79.6 329.52,79.6 329.62,79.6 329.71,79.6 329.81,79.6 329.91,79.6 330.01,79.6 330.11,79.6 330.21,79.6 330.31,79.6 330.41,79.6 330.51,79.6 330.61,79.6 330.71,79.6 330.81,79.6 330.91,79.6 331.01,79.6 331.11,79.6 331.21,79.6 331.31,79.6 331.41,79.6 331.51,79.6 331.61,79.6 331.7,79.6 331.8,79.6 331.9,79.6 332,79.6 332.1,79.6 332.2,79.6 332.3,79.6 332.4,79.6 332.5,79.6 332.6,79.6" fill="none" stroke="#2a7d64" stroke-width="1.0" stroke-linejoin="round" />
<polyline clip-path="url(#ca2)" points="253,78.4 256,78.3 256.8,77.1 257.5,78.3 258.4,78.3 259.2,73.6 259.9,78.3 260.2,78.3 261,75.3 261.7,78.3 262.6,78.3 263.4,74.2 264.1,78.3 265,78.3 265.8,75.3 266.5,78.3 266.8,78.3 267.6,74.8 268.3,78.3 268.9,78.3 269.7,70.6 270.4,78.3 271,78.3 271.8,77.1 272.5,78.3 274.5,78.3 275.3,75.3 276,78.3 276.9,78.3 277.7,74.2 278.4,78.3 279,78.3 279.8,73 280.5,78.3 281.7,78.3 282.5,69.4 283.2,78.3 284.1,78.3 284.9,73.6 285.6,78.3 287.1,78.3 287.9,77.1 288.6,78.3 290.1,78.3 290.9,74.2 291.6,78.3 291.9,78.3 292.7,73 293.4,78.3 293.7,78.3 294.5,69.4 295.2,78.3 295.5,78.3 296.3,70 297,78.3 297.3,78.3 298.1,68.2 298.8,78.3 300.3,78.3 301.1,67 301.8,78.3 303.9,78.3 304.7,77.7 305.4,78.3 306.3,78.3 307.1,76.5 307.8,78.3 308.7,78.3 309.5,74.2 310.2,78.3 310.5,78.3 311.3,71.8 312,78.3 312.8,78.3 313.6,68.2 314.3,78.3 314.6,78.3 315.4,67 316.1,78.3 316.4,78.3 317.2,63.4 317.9,78.3 318.2,78.3 319,70.6 319.7,78.3 323,78.3 323.8,77.7 324.5,78.3 325.4,78.3 326.2,77.1 326.9,78.3 327.8,78.3 328.6,76.5 329.3,78.3 330.2,78.3 331,73 331.7,78.3 332.6,78.2" fill="none" stroke="#f5cd98" stroke-width="0.75" stroke-linejoin="round" />
<path d="M253 86.1v-1.6 M253 12.6v1.6 M292.8 86.1v-1.6 M292.8 12.6v1.6 M332.6 86.1v-1.6 M332.6 12.6v1.6 M253 79.6h1.6 M332.6 79.6h-1.6 M253 12.6h1.6 M332.6 12.6h-1.6 M253 46.1h1 M332.6 46.1h-1" stroke="#262626" stroke-width="0.8" fill="none"/>
<rect x="253" y="12.6" width="79.6" height="73.5" fill="none" stroke="#262626" stroke-width="0.85"/>
<text x="248.8" y="16.1" font-family='"Liberation Serif", serif' font-size="12.4" text-anchor="end" fill="#1a1a1a"  >0.05</text>
<text x="248.8" y="83.2" font-family='"Liberation Serif", serif' font-size="12.4" text-anchor="end" fill="#1a1a1a"  >0</text>
<text x="259.3" y="24.4" font-family='"Liberation Sans", sans-serif' font-size="10.3" text-anchor="start" fill="#1a1a1a"  stroke="#1a1a1a" stroke-width="0.2">(a-ii)</text>
<g transform="translate(231.5 47) rotate(-90)"><text x="-16.01" y="0" font-family='"Liberation Serif", serif' font-size="12.6" font-style="italic">G</text><path d="M-5.66 3.78 V-2.52 M-7.36 -0.76 L-5.66 -2.77 L-3.96 -0.76" stroke="#1a1a1a" stroke-width="0.8" fill="none"/><text x="-2.63" y="0" font-family='"Liberation Serif", serif' font-size="12.6" font-style="italic">/G</text><text x="10.6" y="2.27" font-family='"Liberation Serif", serif' font-size="9.32">0</text></g>
<clipPath id="ca3"><rect x="251.5" y="103.3" width="81.2" height="73.5"/></clipPath>
<polyline clip-path="url(#ca3)" points="251.5,166.5 251.57,166.52 251.64,166.54 251.7,166.56 251.77,166.58 251.84,166.6 251.91,166.62 251.97,166.64 252.04,166.66 252.11,166.68 252.18,166.7 252.24,166.72 252.31,166.74 252.38,166.76 252.45,166.78 252.51,166.8 252.58,166.82 252.65,166.85 252.72,166.87 252.79,166.89 252.85,166.91 252.92,166.93 252.99,166.95 253.06,166.97 253.12,166.99 253.19,167.01 253.26,167.03 253.33,167.05 253.39,167.07 253.46,167.09 253.53,167.11 253.6,167.13 253.67,167.15 253.73,167.17 253.8,167.19 253.87,167.21 253.94,167.23 254,167.25 254.07,167.27 254.14,167.29 254.21,167.31 254.27,167.33 254.34,167.35 254.41,167.37 254.48,167.39 254.54,167.41 254.61,167.43 254.68,167.45 254.75,167.47 254.82,168.35 254.88,166.42 254.95,164.48 255.02,162.55 255.09,160.61 255.15,158.68 255.22,156.74 255.29,154.81 255.36,155.18 255.42,155.95 255.49,156.67 255.56,157.36 255.63,158 255.7,158.61 255.76,159.19 255.83,159.74 255.9,160.25 255.97,160.74 256.03,161.21 256.1,161.65 256.17,162.07 256.24,162.46 256.3,162.84 256.37,163.2 256.44,163.54 256.51,163.86 256.57,164.16 256.64,164.46 256.71,164.73 256.78,164.99 256.85,165.24 256.91,165.48 256.98,165.71 257.05,165.92 257.12,166.13 257.18,166.32 257.25,166.5 257.32,166.68 257.39,166.84 257.45,167 257.52,167.15 257.59,167.28 257.66,167.42 257.73,167.54 257.79,167.66 257.86,167.77 257.93,167.87 258,167.96 258.06,168.05 258.13,168.13 258.2,168.21 258.27,168.28 258.33,168.34 258.4,168.4 258.47,168.45 258.54,168.5 258.61,168.54 258.67,168.58 258.74,168.61 258.81,168.63 258.88,168.65 258.94,168.66 259.01,168.67 259.08,168.68 259.15,167.03 259.21,164.45 259.28,161.86 259.35,159.28 259.42,156.69 259.48,154.11 259.55,151.52 259.62,150.01 259.69,151.03 259.76,151.98 259.82,152.88 259.89,153.73 259.96,154.54 260.03,155.3 260.09,156.02 260.16,156.7 260.23,157.34 260.3,157.95 260.36,158.53 260.43,159.07 260.5,159.59 260.57,160.09 260.63,160.56 260.7,161 260.77,161.43 260.84,161.83 260.91,162.21 260.97,162.58 261.04,162.93 261.11,163.26 261.18,163.58 261.24,163.88 261.31,164.17 261.38,164.44 261.45,164.7 261.51,164.95 261.58,165.19 261.65,165.42 261.72,165.64 261.79,165.84 261.85,166.04 261.92,166.23 261.99,166.41 262.06,166.58 262.12,166.75 262.19,166.9 262.26,167.05 262.33,167.19 262.39,167.32 262.46,167.45 262.53,167.57 262.6,167.68 262.67,167.78 262.73,167.88 262.8,167.98 262.87,168.06 262.94,168.14 263,168.22 263.07,168.29 263.14,168.35 263.21,168.41 263.27,168.46 263.34,168.51 263.41,168.56 263.48,168.59 263.54,168.62 263.61,168.65 263.68,168.67 263.75,168.69 263.82,168.7 263.88,168.71 263.95,168.72 264.02,168.72 264.09,168.73 264.15,165.86 264.22,162.15 264.29,158.44 264.36,154.73 264.42,151.03 264.49,147.32 264.56,143.61 264.63,141.97 264.69,143.34 264.76,144.62 264.83,145.82 264.9,146.96 264.97,148.03 265.03,149.04 265.1,150 265.17,150.9 265.24,151.75 265.3,152.56 265.37,153.33 265.44,154.05 265.51,154.74 265.57,155.39 265.64,156.01 265.71,156.6 265.78,157.16 265.85,157.69 265.91,158.2 265.98,158.68 266.05,159.15 266.12,159.59 266.18,160.01 266.25,160.41 266.32,160.8 266.39,161.17 266.45,161.52 266.52,161.86 266.59,162.19 266.66,162.5 266.73,162.8 266.79,163.09 266.86,163.36 266.93,163.63 267,163.89 267.06,164.13 267.13,164.37 267.2,164.6 267.27,164.82 267.33,165.03 267.4,165.23 267.47,165.43 267.54,165.61 267.6,165.79 267.67,165.97 267.74,166.14 267.81,166.3 267.88,166.45 267.94,166.6 268.01,166.74 268.08,166.88 268.15,167.01 268.21,167.14 268.28,167.26 268.35,167.37 268.42,167.49 268.48,167.59 268.55,167.69 268.62,167.79 268.69,167.88 268.75,167.96 268.82,168.04 268.89,168.12 268.96,168.19 269.03,168.26 269.09,168.32 269.16,168.38 269.23,168.44 269.3,168.49 269.36,168.53 269.43,168.58 269.5,168.61 269.57,168.65 269.63,168.68 269.7,168.7 269.77,168.72 269.84,168.74 269.91,168.75 269.97,168.76 270.04,168.76 270.11,168.77 270.18,168.77 270.24,168.77 270.31,168.77 270.38,168.78 270.45,168.78 270.51,167.97 270.58,164.06 270.65,160.15 270.72,156.24 270.78,152.33 270.85,148.42 270.92,144.5 270.99,140.59 271.06,141.09 271.12,142.45 271.19,143.74 271.26,144.95 271.33,146.08 271.39,147.16 271.46,148.17 271.53,149.12 271.6,150.02 271.66,150.87 271.73,151.68 271.8,152.44 271.87,153.16 271.94,153.84 272,154.49 272.07,155.11 272.14,155.7 272.21,156.25 272.27,156.78 272.34,157.29 272.41,157.77 272.48,158.23 272.54,158.67 272.61,159.09 272.68,159.5 272.75,159.88 272.81,160.25 272.88,160.6 272.95,160.94 273.02,161.27 273.09,161.58 273.15,161.88 273.22,162.17 273.29,162.45 273.36,162.72 273.42,162.98 273.49,163.23 273.56,163.47 273.63,163.71 273.69,163.93 273.76,164.15 273.83,164.36 273.9,164.56 273.97,164.76 274.03,164.94 274.1,165.13 274.17,165.3 274.24,165.48 274.3,165.64 274.37,165.8 274.44,165.96 274.51,166.11 274.57,166.25 274.64,166.39 274.71,166.53 274.78,166.66 274.84,166.78 274.91,166.9 274.98,167.02 275.05,167.13 275.12,167.24 275.18,167.35 275.25,167.45 275.32,167.54 275.39,167.63 275.45,167.72 275.52,167.81 275.59,167.89 275.66,167.97 275.72,168.04 275.79,168.11 275.86,168.18 275.93,168.24 276,168.3 276.06,168.35 276.13,168.41 276.2,168.46 276.27,168.5 276.33,168.54 276.4,168.58 276.47,168.62 276.54,168.65 276.6,168.68 276.67,168.7 276.74,168.72 276.81,168.74 276.88,168.76 276.94,168.77 277.01,168.78 277.08,168.78 277.15,168.78 277.21,168.78 277.28,168.79 277.35,168.79 277.42,168.79 277.48,168.79 277.55,168.79 277.62,168.79 277.69,168.79 277.75,164.69 277.82,159.6 277.89,154.51 277.96,149.42 278.03,144.33 278.09,139.25 278.16,134.16 278.23,131.99 278.3,133.79 278.36,135.49 278.43,137.08 278.5,138.58 278.57,139.99 278.63,141.32 278.7,142.57 278.77,143.75 278.84,144.87 278.9,145.92 278.97,146.92 279.04,147.87 279.11,148.76 279.18,149.61 279.24,150.42 279.31,151.18 279.38,151.91 279.45,152.6 279.51,153.26 279.58,153.89 279.65,154.49 279.72,155.06 279.78,155.61 279.85,156.13 279.92,156.63 279.99,157.11 280.06,157.57 280.12,158.01 280.19,158.44 280.26,158.84 280.33,159.24 280.39,159.61 280.46,159.98 280.53,160.33 280.6,160.66 280.66,160.99 280.73,161.3 280.8,161.61 280.87,161.9 280.94,162.18 281,162.46 281.07,162.72 281.14,162.98 281.21,163.23 281.27,163.47 281.34,163.7 281.41,163.93 281.48,164.15 281.54,164.36 281.61,164.57 281.68,164.76 281.75,164.96 281.81,165.14 281.88,165.33 281.95,165.5 282.02,165.67 282.09,165.84 282.15,166 282.22,166.15 282.29,166.3 282.36,166.44 282.42,166.58 282.49,166.72 282.56,166.85 282.63,166.97 282.69,167.09 282.76,167.21 282.83,167.32 282.9,167.43 282.96,167.53 283.03,167.63 283.1,167.72 283.17,167.81 283.24,167.9 283.3,167.98 283.37,168.06 283.44,168.13 283.51,168.2 283.57,168.27 283.64,168.33 283.71,168.39 283.78,168.44 283.84,168.49 283.91,168.54 283.98,168.58 284.05,168.62 284.12,168.65 284.18,168.68 284.25,168.71 284.32,168.73 284.39,168.75 284.45,168.76 284.52,168.77 284.59,168.78 284.66,168.78 284.72,168.79 284.79,168.79 284.86,168.79 284.93,168.79 285,168.79 285.06,168.79 285.13,168.79 285.2,168.79 285.27,168.79 285.33,166.11 285.4,160.64 285.47,155.17 285.54,149.7 285.6,144.24 285.67,138.77 285.74,133.3 285.81,128.61 285.87,130.53 285.94,132.33 286.01,134.02 286.08,135.61 286.15,137.1 286.21,138.51 286.28,139.83 286.35,141.08 286.42,142.25 286.48,143.36 286.55,144.41 286.62,145.4 286.69,146.34 286.75,147.22 286.82,148.06 286.89,148.86 286.96,149.62 287.02,150.33 287.09,151.02 287.16,151.67 287.23,152.29 287.3,152.88 287.36,153.45 287.43,153.99 287.5,154.5 287.57,155 287.63,155.47 287.7,155.93 287.77,156.36 287.84,156.78 287.9,157.19 287.97,157.57 288.04,157.95 288.11,158.31 288.18,158.66 288.24,158.99 288.31,159.32 288.38,159.63 288.45,159.94 288.51,160.23 288.58,160.52 288.65,160.8 288.72,161.07 288.78,161.33 288.85,161.58 288.92,161.83 288.99,162.07 289.06,162.3 289.12,162.53 289.19,162.75 289.26,162.97 289.33,163.17 289.39,163.38 289.46,163.58 289.53,163.77 289.6,163.96 289.66,164.15 289.73,164.32 289.8,164.5 289.87,164.67 289.93,164.84 290,165 290.07,165.16 290.14,165.31 290.21,165.46 290.27,165.61 290.34,165.75 290.41,165.89 290.48,166.03 290.54,166.16 290.61,166.29 290.68,166.41 290.75,166.53 290.81,166.65 290.88,166.76 290.95,166.87 291.02,166.98 291.08,167.09 291.15,167.19 291.22,167.28 291.29,167.38 291.36,167.47 291.42,167.56 291.49,167.64 291.56,167.73 291.63,167.81 291.69,167.88 291.76,167.95 291.83,168.02 291.9,168.09 291.96,168.15 292.03,168.21 292.1,168.27 292.17,168.33 292.24,168.38 292.3,168.43 292.37,168.47 292.44,168.51 292.51,168.55 292.57,168.59 292.64,168.62 292.71,168.65 292.78,168.68 292.84,168.71 292.91,168.73 292.98,168.75 293.05,168.76 293.12,168.77 293.18,168.78 293.25,168.79 293.32,168.79 293.39,168.8 293.45,168.8 293.52,168.8 293.59,168.8 293.66,168.8 293.72,168.8 293.79,168.8 293.86,168.8 293.93,168.8 293.99,168.8 294.06,168.8 294.13,168.8 294.2,168.8 294.27,162.54 294.33,156.06 294.4,149.58 294.47,143.09 294.54,136.61 294.6,130.13 294.67,123.65 294.74,122.21 294.81,124.38 294.87,126.41 294.94,128.31 295.01,130.1 295.08,131.78 295.14,133.35 295.21,134.84 295.28,136.24 295.35,137.55 295.42,138.79 295.48,139.97 295.55,141.07 295.62,142.12 295.69,143.11 295.75,144.05 295.82,144.93 295.89,145.78 295.96,146.58 296.02,147.34 296.09,148.06 296.16,148.75 296.23,149.41 296.3,150.04 296.36,150.64 296.43,151.21 296.5,151.76 296.57,152.28 296.63,152.79 296.7,153.27 296.77,153.74 296.84,154.19 296.9,154.62 296.97,155.03 297.04,155.44 297.11,155.82 297.18,156.2 297.24,156.56 297.31,156.91 297.38,157.25 297.45,157.58 297.51,157.9 297.58,158.21 297.65,158.51 297.72,158.81 297.78,159.09 297.85,159.37 297.92,159.64 297.99,159.91 298.05,160.17 298.12,160.42 298.19,160.66 298.26,160.9 298.33,161.14 298.39,161.37 298.46,161.59 298.53,161.81 298.6,162.02 298.66,162.23 298.73,162.44 298.8,162.64 298.87,162.83 298.93,163.03 299,163.21 299.07,163.4 299.14,163.58 299.2,163.76 299.27,163.93 299.34,164.1 299.41,164.26 299.48,164.43 299.54,164.58 299.61,164.74 299.68,164.89 299.75,165.04 299.81,165.19 299.88,165.33 299.95,165.47 300.02,165.6 300.08,165.74 300.15,165.87 300.22,166 300.29,166.12 300.36,166.24 300.42,166.36 300.49,166.47 300.56,166.59 300.63,166.7 300.69,166.8 300.76,166.91 300.83,167.01 300.9,167.1 300.96,167.2 301.03,167.29 301.1,167.38 301.17,167.47 301.24,167.55 301.3,167.63 301.37,167.71 301.44,167.79 301.51,167.86 301.57,167.93 301.64,168 301.71,168.06 301.78,168.12 301.84,168.18 301.91,168.24 301.98,168.29 302.05,168.34 302.11,168.39 302.18,168.44 302.25,168.48 302.32,168.52 302.39,168.56 302.45,168.59 302.52,168.62 302.59,168.65 302.66,168.68 302.72,168.7 302.79,168.73 302.86,168.74 302.93,168.76 302.99,168.77 303.06,168.78 303.13,168.79 303.2,168.8 303.26,168.8 303.33,168.8 303.4,168.8 303.47,168.8 303.54,168.8 303.6,168.8 303.67,168.8 303.74,168.8 303.81,168.8 303.87,168.8 303.94,168.8 304.01,168.8 304.08,168.8 304.14,168.8 304.21,168.8 304.28,168.8 304.35,163.86 304.42,156.85 304.48,149.84 304.55,142.83 304.62,135.82 304.69,128.81 304.75,121.8 304.82,117.77 304.89,120.13 304.96,122.33 305.02,124.4 305.09,126.34 305.16,128.16 305.23,129.87 305.29,131.48 305.36,132.99 305.43,134.41 305.5,135.75 305.57,137.02 305.63,138.21 305.7,139.33 305.77,140.4 305.84,141.41 305.9,142.36 305.97,143.26 306.04,144.12 306.11,144.93 306.17,145.71 306.24,146.45 306.31,147.15 306.38,147.82 306.45,148.46 306.51,149.07 306.58,149.65 306.65,150.21 306.72,150.74 306.78,151.26 306.85,151.75 306.92,152.23 306.99,152.69 307.05,153.13 307.12,153.55 307.19,153.96 307.26,154.36 307.32,154.74 307.39,155.11 307.46,155.47 307.53,155.82 307.6,156.16 307.66,156.49 307.73,156.81 307.8,157.12 307.87,157.42 307.93,157.72 308,158 308.07,158.28 308.14,158.56 308.2,158.83 308.27,159.09 308.34,159.34 308.41,159.59 308.48,159.84 308.54,160.07 308.61,160.31 308.68,160.54 308.75,160.76 308.81,160.98 308.88,161.2 308.95,161.41 309.02,161.62 309.08,161.82 309.15,162.02 309.22,162.21 309.29,162.41 309.36,162.6 309.42,162.78 309.49,162.96 309.56,163.14 309.63,163.31 309.69,163.49 309.76,163.65 309.83,163.82 309.9,163.98 309.96,164.14 310.03,164.3 310.1,164.45 310.17,164.6 310.23,164.75 310.3,164.89 310.37,165.03 310.44,165.17 310.51,165.31 310.57,165.44 310.64,165.57 310.71,165.7 310.78,165.83 310.84,165.95 310.91,166.07 310.98,166.18 311.05,166.3 311.11,166.41 311.18,166.52 311.25,166.63 311.32,166.73 311.38,166.83 311.45,166.93 311.52,167.03 311.59,167.12 311.66,167.21 311.72,167.3 311.79,167.38 311.86,167.47 311.93,167.55 311.99,167.63 312.06,167.7 312.13,167.77 312.2,167.84 312.26,167.91 312.33,167.98 312.4,168.04 312.47,168.1 312.54,168.16 312.6,168.21 312.67,168.27 312.74,168.32 312.81,168.37 312.87,168.41 312.94,168.45 313.01,168.49 313.08,168.53 313.14,168.57 313.21,168.6 313.28,168.63 313.35,168.66 313.41,168.68 313.48,168.71 313.55,168.73 313.62,168.74 313.69,168.76 313.75,168.77 313.82,168.78 313.89,168.79 313.96,168.8 314.02,168.8 314.09,168.8 314.16,168.8 314.23,168.8 314.29,168.8 314.36,168.8 314.43,168.8 314.5,168.8 314.57,168.8 314.63,168.8 314.7,168.8 314.77,168.8 314.84,168.8 314.9,168.8 314.97,168.8 315.04,168.8 315.11,168.8 315.17,168.8 315.24,164.08 315.31,156.47 315.38,148.87 315.44,141.26 315.51,133.66 315.58,126.05 315.65,118.44 315.72,113.21 315.78,115.74 315.85,118.11 315.92,120.32 315.99,122.4 316.05,124.35 316.12,126.18 316.19,127.89 316.26,129.51 316.32,131.02 316.39,132.45 316.46,133.8 316.53,135.06 316.6,136.26 316.66,137.39 316.73,138.45 316.8,139.46 316.87,140.42 316.93,141.32 317,142.18 317.07,142.99 317.14,143.77 317.2,144.51 317.27,145.21 317.34,145.88 317.41,146.52 317.48,147.13 317.54,147.71 317.61,148.27 317.68,148.81 317.75,149.32 317.81,149.81 317.88,150.29 317.95,150.75 318.02,151.19 318.08,151.62 318.15,152.03 318.22,152.42 318.29,152.81 318.35,153.18 318.42,153.54 318.49,153.9 318.56,154.24 318.63,154.57 318.69,154.89 318.76,155.2 318.83,155.51 318.9,155.81 318.96,156.1 319.03,156.39 319.1,156.66 319.17,156.94 319.23,157.2 319.3,157.46 319.37,157.72 319.44,157.97 319.5,158.21 319.57,158.45 319.64,158.69 319.71,158.92 319.78,159.15 319.84,159.37 319.91,159.59 319.98,159.81 320.05,160.02 320.11,160.23 320.18,160.43 320.25,160.64 320.32,160.83 320.38,161.03 320.45,161.22 320.52,161.41 320.59,161.6 320.66,161.78 320.72,161.96 320.79,162.14 320.86,162.31 320.93,162.48 320.99,162.65 321.06,162.82 321.13,162.98 321.2,163.15 321.26,163.3 321.33,163.46 321.4,163.62 321.47,163.77 321.53,163.92 321.6,164.06 321.67,164.21 321.74,164.35 321.81,164.49 321.87,164.63 321.94,164.76 322.01,164.89 322.08,165.02 322.14,165.15 322.21,165.28 322.28,165.4 322.35,165.52 322.41,165.64 322.48,165.76 322.55,165.87 322.62,165.98 322.69,166.09 322.75,166.2 322.82,166.31 322.89,166.41 322.96,166.51 323.02,166.61 323.09,166.71 323.16,166.8 323.23,166.89 323.29,166.98 323.36,167.07 323.43,167.15 323.5,167.24 323.56,167.32 323.63,167.4 323.7,167.48 323.77,167.55 323.84,167.62 323.9,167.69 323.97,167.76 324.04,167.83 324.11,167.89 324.17,167.95 324.24,168.01 324.31,168.07 324.38,168.12 324.44,168.18 324.51,168.23 324.58,168.28 324.65,168.32 324.72,168.37 324.78,168.41 324.85,168.45 324.92,168.49 324.99,168.52 325.05,168.56 325.12,168.59 325.19,168.62 325.26,168.64 325.32,168.67 325.39,168.69 325.46,168.71 325.53,168.73 325.59,168.75 325.66,168.76 325.73,168.77 325.8,168.78 325.87,168.79 325.93,168.8 326,168.8 326.07,168.8 326.14,168.8 326.2,168.8 326.27,168.8 326.34,168.8 326.41,168.8 326.47,168.8 326.54,168.8 326.61,168.8 326.68,168.8 326.75,168.8 326.81,168.8 326.88,168.8 326.95,168.8 327.02,168.8 327.08,168.8 327.15,168.8 327.22,168.8 327.29,168.8 327.35,168.8 327.42,166.14 327.49,157.95 327.56,149.76 327.62,141.57 327.69,133.39 327.76,125.2 327.83,117.01 327.9,108.82 327.96,110.9 328.03,113.5 328.1,115.93 328.17,118.22 328.23,120.36 328.3,122.36 328.37,124.25 328.44,126.02 328.5,127.69 328.57,129.25 328.64,130.73 328.71,132.12 328.78,133.43 328.84,134.67 328.91,135.84 328.98,136.94 329.05,137.99 329.11,138.98 329.18,139.92 329.25,140.82 329.32,141.66 329.38,142.47 329.45,143.24 329.52,143.97 329.59,144.67 329.65,145.34 329.72,145.98 329.79,146.59 329.86,147.18 329.93,147.74 329.99,148.28 330.06,148.8 330.13,149.3 330.2,149.78 330.26,150.25 330.33,150.69 330.4,151.13 330.47,151.55 330.53,151.96 330.6,152.35 330.67,152.73 330.74,153.1 330.81,153.47 330.87,153.82 330.94,154.16 331.01,154.49 331.08,154.82 331.14,155.13 331.21,155.44 331.28,155.75 331.35,156.04 331.41,156.33 331.48,156.61 331.55,156.89 331.62,157.16 331.69,157.43 331.75,157.69 331.82,157.95 331.89,158.2 331.96,158.45 332.02,158.69 332.09,158.93 332.16,159.16 332.23,159.39 332.29,159.62 332.36,159.84 332.43,160.06 332.5,160.27 332.56,160.48 332.63,160.69 332.7,160.9" fill="none" stroke="#2a7d64" stroke-width="1.0" stroke-linejoin="round" />
<polyline clip-path="url(#ca3)" points="251.5,166.22 252.85,161.22 254.21,165.55 255.56,160.75 256.91,165.79 258.27,159.91 259.62,163.83 260.97,158.79 262.33,163.74 263.68,159.5 265.03,163.8 266.39,159.02 267.74,164.1 269.09,158.97 270.45,163.65 271.8,157.06 273.15,162.13 274.51,156.91 275.86,161.81 277.21,157.69 278.57,162.35 279.92,156.5 281.27,161.19 282.63,155.7 283.98,160.54 285.33,156.76 286.69,160.68 288.04,155.3 289.39,160.49 290.75,155.85 292.1,160.18 293.45,155.64 294.81,158.94 296.16,153.82 297.51,159.29 298.87,154.5 300.22,158.24 301.57,153.62 302.93,157.92 304.28,152.73 305.63,158.25 306.99,153.17 308.34,157.7 309.69,152.76 311.05,158.15 312.4,152.62 313.75,156.56 315.11,152.74 316.46,157.61 317.81,151.27 319.17,156.8 320.52,151.07 321.87,156.07 323.23,151.06 324.58,154.72 325.93,150.96 327.29,155.44 328.64,150.57 329.99,154.65 331.35,150.06 332.7,154.79" fill="none" stroke="#f5cd98" stroke-width="1.1" stroke-linejoin="round" />
<path d="M251.5 176.8v-1.6 M251.5 103.3v1.6 M292.1 176.8v-1.6 M292.1 103.3v1.6 M332.7 176.8v-1.6 M332.7 103.3v1.6 M251.5 170h1.6 M332.7 170h-1.6 M251.5 103.3h1.6 M332.7 103.3h-1.6 M251.5 136.65h1 M332.7 136.65h-1" stroke="#262626" stroke-width="0.8" fill="none"/>
<rect x="251.5" y="103.3" width="81.2" height="73.5" fill="none" stroke="#262626" stroke-width="0.85"/>
<text x="248.3" y="106.9" font-family='"Liberation Serif", serif' font-size="12.4" text-anchor="end" fill="#1a1a1a"  >0.05</text>
<text x="248.3" y="173.6" font-family='"Liberation Serif", serif' font-size="12.4" text-anchor="end" fill="#1a1a1a"  >0</text>
<text x="251.5" y="190.9" font-family='"Liberation Serif", serif' font-size="12.4" text-anchor="middle" fill="#1a1a1a"  >0</text>
<text x="332.7" y="190.9" font-family='"Liberation Serif", serif' font-size="12.4" text-anchor="middle" fill="#1a1a1a"  >2</text>
<text transform="translate(282.8 201.4) scale(1.2 1)" x="0" y="0" font-family='"Liberation Serif", serif' font-size="12.5" fill="#1a1a1a" font-style="italic">U<tspan font-size="9.25" dy="3" dx="-0.5">g</tspan><tspan dy="-3" dx="0.75">/t</tspan></text>
<text x="257.5" y="116.3" font-family='"Liberation Sans", sans-serif' font-size="10.3" text-anchor="start" fill="#1a1a1a"  stroke="#1a1a1a" stroke-width="0.2">(a-iii)</text>
<g transform="translate(231.5 141.4) rotate(-90)"><text x="-16.01" y="0" font-family='"Liberation Serif", serif' font-size="12.6" font-style="italic">G</text><path d="M-5.66 -2.52 V3.78 M-7.36 2.02 L-5.66 4.03 L-3.96 2.02" stroke="#1a1a1a" stroke-width="0.8" fill="none"/><text x="-2.63" y="0" font-family='"Liberation Serif", serif' font-size="12.6" font-style="italic">/G</text><text x="10.6" y="2.27" font-family='"Liberation Serif", serif' font-size="9.32">0</text></g>
<clipPath id="ca4"><rect x="24.6" y="214.2" width="307.9" height="112.1"/></clipPath>
<polyline clip-path="url(#ca4)" points="24.6,311.6 28.6,313.9 33.2,312.8 37.8,308.9 43.5,300.2 46.9,303.6 51.5,300.2 56.1,289.2 59.5,302.5 61.8,292.8 66.4,297.9 72.1,289.9 75.6,300.2 79,300.2 83.6,302.5 87,292.2 91.6,292.8 97.4,297.4 100.8,297.9 105.3,292.8 112.3,303.3 116.6,300.7 121.5,281.4 125.4,291.9 131.2,299.4 138.9,300.1 146.4,291.4 154.3,301.2 161.3,296.6 166.2,301.5 170.1,302.4 173.6,300.1 180.6,301.5 187.6,290.1 191.1,290.7 194.6,293.7 198.1,292.8 203.4,295.4 209.5,295.9 214.8,287.5 218.5,291.9 222.9,293.1 226.4,292.8 229.9,291 234.3,295.9 241.3,297.7 249.2,298.4 253.5,296.3 257.9,292.4 260.9,291.9 264.6,283.7 267.2,284.9 271.1,290.1 275.4,295.4 282.4,297.7 287.7,296.3 292.1,296.6 298.2,288 304.3,291.4 310.5,294.2 319.2,295.4 322.7,291.4 326.2,291 332.5,294.5" fill="none" stroke="#4dbd6b" stroke-width="1.0" stroke-linejoin="round"/>
<polyline clip-path="url(#ca4)" points="24.6,245.6 25.1,245.6 28.1,244 30.9,264.7 33.2,265.8 36.6,289.9 40,291 43.5,293.3 46.9,277.3 49.7,294.5 52.7,299 56.1,300.2 59.5,287.6 61.8,296.7 65.3,296 68.7,302.5 73.3,303.6 77.2,297.4 80.2,301.3 84.1,303.6 87.7,291 91.6,288.3 95.1,291 99.6,296.7 102.6,290.1 105.3,293.7 108.8,296.3 111.9,294.5 115.8,301.5 121,302.4 126.3,298 130.7,290.1 135,297.2 139.9,301.2 145.9,293.7 152.2,301.2 157.8,301.2 162.2,301.9 167.4,302.9 173.6,298 177.1,291.9 181.5,286.3 185,287.2 188.5,290.7 192.9,293.1 200.7,296.3 207.7,302.4 214.8,296.3 219.4,298 223.8,296.3 226.9,290.1 230.8,292.4 236,296.3 240.4,295.9 245.7,291 250,297.2 254.4,300.1 261.4,294.5 267.6,299.4 274.6,295.4 282.4,297.7 288.6,294.9 293.8,298 299.1,299.8 302.6,298.4 309.6,300.7 315.7,297.2 321.9,295.9 327.1,290.1 332.5,292.8" fill="none" stroke="#9b72c9" stroke-width="1.0" stroke-linejoin="round"/>
<path d="M24.6 326.3v-3 M24.6 214.2v3 M178.55 326.3v-3 M178.55 214.2v3 M332.5 326.3v-3 M332.5 214.2v3 M55.39 326.3v-1.6 M55.39 214.2v1.6 M86.18 326.3v-1.6 M86.18 214.2v1.6 M116.97 326.3v-1.6 M116.97 214.2v1.6 M147.76 326.3v-1.6 M147.76 214.2v1.6 M209.34 326.3v-1.6 M209.34 214.2v1.6 M240.13 326.3v-1.6 M240.13 214.2v1.6 M270.92 326.3v-1.6 M270.92 214.2v1.6 M301.71 326.3v-1.6 M301.71 214.2v1.6 M24.6 314.4h3 M332.5 314.4h-3 M24.6 269.7h3 M332.5 269.7h-3 M24.6 225h3 M332.5 225h-3 M24.6 292.05h1.6 M332.5 292.05h-1.6 M24.6 247.35h1.6 M332.5 247.35h-1.6" stroke="#262626" stroke-width="0.8" fill="none"/>
<rect x="24.6" y="214.2" width="307.9" height="112.1" fill="none" stroke="#262626" stroke-width="0.85"/>
<text x="20.5" y="229.3" font-family='"Liberation Serif", serif' font-size="12.4" text-anchor="end" fill="#1a1a1a"  >1</text>
<text x="20.5" y="274" font-family='"Liberation Serif", serif' font-size="12.4" text-anchor="end" fill="#1a1a1a"  >0</text>
<text x="20.5" y="318.7" font-family='"Liberation Serif", serif' font-size="12.4" text-anchor="end" fill="#1a1a1a"  >−1</text>
<text x="24.6" y="339.8" font-family='"Liberation Serif", serif' font-size="12.4" text-anchor="middle" fill="#1a1a1a"  >0</text>
<text x="178.55" y="339.8" font-family='"Liberation Serif", serif' font-size="12.4" text-anchor="middle" fill="#1a1a1a"  >0.5</text>
<text x="332.5" y="339.8" font-family='"Liberation Serif", serif' font-size="12.4" text-anchor="middle" fill="#1a1a1a"  >1</text>
<text transform="translate(159.3 354.2) scale(1.21 1)" x="0" y="0" font-family='"Liberation Serif", serif' font-size="12.6" fill="#1a1a1a" font-style="italic">k<tspan font-size="8.82" dy="2.77" dx="0.25">B</tspan><tspan dy="-2.77" dx="0.5" letter-spacing="0">T/t</tspan></text>
<g transform="translate(5.3 270) rotate(-90)"><text x="0" y="4.2" font-family='"Liberation Serif", serif' font-size="12.5" font-style="italic" text-anchor="middle">P</text></g>
<text x="31.7" y="228.7" font-family='"Liberation Sans", sans-serif' font-size="10.3" text-anchor="start" fill="#1a1a1a"  stroke="#1a1a1a" stroke-width="0.2">(a-iv)</text>
<path d="M52.9 242.4h17.5" stroke="#9b72c9" stroke-width="1.1"/>
<path d="M52.9 259.1h17.5" stroke="#4dbd6b" stroke-width="1.1"/>
<text transform="translate(74 245.2) scale(1.2 1)" x="0" y="0" font-family='"Liberation Serif", serif' font-size="11.3" fill="#9b72c9" font-style="italic">U<tspan font-size="8.36" dy="2.71" dx="-0.45">g</tspan><tspan dy="-2.71" dx="0.68">/t</tspan></text>
<text transform="translate(101.3 245.2) scale(1.2 1)" x="0" y="0" font-family='"Liberation Serif", serif' font-size="11.3" fill="#9b72c9" letter-spacing="0">=</text>
<text transform="translate(112.4 245.2) scale(1.12 1)" x="0" y="0" font-family='"Liberation Serif", serif' font-size="10.4" fill="#9b72c9" letter-spacing="0">0.8</text>
<text transform="translate(73.4 263.1) scale(1.2 1)" x="0" y="0" font-family='"Liberation Serif", serif' font-size="11.3" fill="#4dbd6b" font-style="italic">U<tspan font-size="8.36" dy="2.71" dx="-0.45">g</tspan><tspan dy="-2.71" dx="0.68">/t</tspan></text>
<text transform="translate(100.8 263.1) scale(1.2 1)" x="0" y="0" font-family='"Liberation Serif", serif' font-size="11.3" fill="#4dbd6b" letter-spacing="0">=</text>
<text transform="translate(112.3 263.1) scale(1.12 1)" x="0" y="0" font-family='"Liberation Serif", serif' font-size="10.4" fill="#4dbd6b" letter-spacing="0">1</text>
<clipPath id="cb1"><rect x="375" y="12.6" width="186.3" height="164.6"/></clipPath>
<polyline clip-path="url(#cb1)" points="375,163.6 450,163.6 455,163 460,161 462,157.3 464,150 465.5,135 466.5,155 467.5,140 469.3,120 470.5,100 472,112 474,80 475.5,92 477,65 478.5,75 480,56 481.5,60 483,52.5 486,51.6 562,51.6" fill="none" stroke="#6bd9c0" stroke-width="1.0" stroke-linejoin="round"/>
<polyline clip-path="url(#cb1)" points="375,162.8 463.5,162.8 464.8,125 465.4,110 466.2,150 466.6,162.3 470.6,162.3 471.5,110 472.3,62 473.8,52.6 562,52.6" fill="none" stroke="#3da484" stroke-width="1.0" stroke-linejoin="round"/>
<polyline clip-path="url(#cb1)" points="375,163.6 463.8,163.6 465,120 465.6,100 466.3,140 466.8,163.6 471,163.6 471.8,120 472.4,55 473.2,51.8 562,51.8" fill="none" stroke="#2a7d64" stroke-width="1.0" stroke-linejoin="round"/>
<polyline clip-path="url(#cb1)" points="375,163.6 445.4,163.6 452,161 457,155.2 460.4,148.5 463.8,143.5 466,138 468.8,125 470.5,130 472,110 474,100 476,85 477.5,95 479,70 480.5,80 482.9,59 485,67.3 487,57.6 489.2,64.5 491.3,56.2 493,58 495.5,53.4 500,52.5 505,52 562,51.5" fill="none" stroke="#f5cd98" stroke-width="1.0" stroke-linejoin="round"/>
<polyline clip-path="url(#cb1)" points="375,163.6 410,163.6 421.6,162.8 428,161.5 430.3,159.4 435,158 442,155.6 445,153 450,145.4 453.4,138.7 456.7,132 459.2,140.3 462.6,126.9 465.1,135.3 468.5,120.2 471,115.2 473.5,106.8 476.8,96.7 479.4,105.1 482,88 485,70.4 487,84 490,68.5 492.8,60.6 495.7,72.4 498.7,63.6 501.6,64.6 503.5,68 505.6,55.4 507,66.5 508.4,61 510.5,61.6 512.6,55.4 514,61.6 515.4,59.6 518.2,55.4 520.3,53.3 522.3,54 524,56.8 525.2,58.2 527.2,55.4 529.3,54.7 532,52.3 535,54 537.7,53.3 542,52.6 547.5,51.9 553,51.6 562,51.9" fill="none" stroke="#ef8d44" stroke-width="1.0" stroke-linejoin="round"/>
<polyline clip-path="url(#cb1)" points="375,160.3 378.3,159.9 382.5,158.6 385,160.8 391.8,159.4 396.8,158.2 401.8,156 404.3,158.9 408.5,157.7 411.8,156 416.9,151.5 419.4,153.9 421.6,152.2 423.6,155.6 428.6,150.5 432,148.5 436.1,132.6 437.8,144.3 440.3,146 443.3,141 445.4,145.5 448.7,142.7 450,135.3 452.5,128.6 455.9,106 457.5,123.6 459.2,129.4 460.9,108.5 462.6,128.6 465.1,106.8 467.6,130.3 470.1,116.8 472.6,110.1 475.2,93.4 477.7,121.9 479.4,115.2 482.7,91.7 485.2,119.4 487.8,100 489.5,86 491,99.8 492.8,76.3 495.7,88 497.7,90 500.6,70.4 504.5,93.9 507,85 510.4,81 512.6,75 515.4,68 517.5,73.5 520.3,68 522.3,62.3 524.4,73.5 526.5,70.7 529.3,66.5 532.1,61 534.9,56.8 537,70.7 540.5,71.4 543.3,67.2 546.1,61 550.3,56.8 553.8,54 555.2,58.2 557.3,59.6 560,58.2 562,59.6" fill="none" stroke="#cf6338" stroke-width="1.0" stroke-linejoin="round"/>
<path d="M421.57 40V177.2" stroke="#a98fdb" stroke-width="1.35" stroke-dasharray="4.8 4.2" stroke-dashoffset="0" fill="none"/>
<path d="M514.72 40V177.2" stroke="#74cf92" stroke-width="1.35" stroke-dasharray="4.8 4.2" stroke-dashoffset="0" fill="none"/>
<path d="M375 177.2v-3 M375 12.6v3 M421.57 177.2v-3 M421.57 12.6v3 M468.15 177.2v-3 M468.15 12.6v3 M514.72 177.2v-3 M514.72 12.6v3 M561.3 177.2v-3 M561.3 12.6v3 M398.29 177.2v-1.6 M398.29 12.6v1.6 M444.86 177.2v-1.6 M444.86 12.6v1.6 M491.44 177.2v-1.6 M491.44 12.6v1.6 M538.01 177.2v-1.6 M538.01 12.6v1.6 M375 163.5h3 M561.3 163.5h-3 M375 107.5h3 M561.3 107.5h-3 M375 51.5h3 M561.3 51.5h-3 M375 135.5h1.6 M561.3 135.5h-1.6 M375 79.5h1.6 M561.3 79.5h-1.6 M375 23.5h1.6 M561.3 23.5h-1.6" stroke="#262626" stroke-width="0.8" fill="none"/>
<rect x="375" y="12.6" width="186.3" height="164.6" fill="none" stroke="#262626" stroke-width="0.85"/>
<text x="371" y="55.1" font-family='"Liberation Serif", serif' font-size="12.4" text-anchor="end" fill="#1a1a1a"  >1</text>
<text x="371" y="111.1" font-family='"Liberation Serif", serif' font-size="12.4" text-anchor="end" fill="#1a1a1a"  >0</text>
<text x="371" y="167.1" font-family='"Liberation Serif", serif' font-size="12.4" text-anchor="end" fill="#1a1a1a"  >−1</text>
<text x="375" y="190.9" font-family='"Liberation Serif", serif' font-size="12.4" text-anchor="middle" fill="#1a1a1a"  >−2</text>
<text x="421.57" y="190.9" font-family='"Liberation Serif", serif' font-size="12.4" text-anchor="middle" fill="#1a1a1a"  >−1</text>
<text x="468.15" y="190.9" font-family='"Liberation Serif", serif' font-size="12.4" text-anchor="middle" fill="#1a1a1a"  >0</text>
<text x="514.72" y="190.9" font-family='"Liberation Serif", serif' font-size="12.4" text-anchor="middle" fill="#1a1a1a"  >1</text>
<text x="561.3" y="190.9" font-family='"Liberation Serif", serif' font-size="12.4" text-anchor="middle" fill="#1a1a1a"  >2</text>
<text transform="translate(459.7 203.1) scale(1.19 1)" x="0" y="0" font-family='"Liberation Serif", serif' font-size="12.5" fill="#1a1a1a" font-style="italic">U<tspan font-size="9.25" dy="3" dx="-0.5">g</tspan><tspan dy="-3" dx="0.75">/t</tspan></text>
<g transform="translate(356.7 88.3) rotate(-90)"><text x="0" y="4.2" font-family='"Liberation Serif", serif' font-size="12.5" font-style="italic" text-anchor="middle">P</text></g>
<text x="381" y="26.9" font-family='"Liberation Sans", sans-serif' font-size="10.3" text-anchor="start" fill="#1a1a1a"  stroke="#1a1a1a" stroke-width="0.2">(b-i)</text>
<clipPath id="cb2"><rect x="601.4" y="12.6" width="79.7" height="72.4"/></clipPath>
<polyline clip-path="url(#cb2)" points="601.4,75.84 601.5,75.84 601.6,75.84 601.7,75.84 601.8,75.84 601.9,75.84 602,75.84 602.1,75.84 602.2,75.84 602.3,75.84 602.4,75.84 602.5,75.84 602.6,75.84 602.7,75.84 602.79,75.84 602.89,75.84 602.99,75.84 603.09,75.84 603.19,75.84 603.29,75.84 603.39,75.84 603.49,75.84 603.59,75.84 603.69,75.84 603.79,75.84 603.89,75.84 603.99,75.84 604.09,75.84 604.19,75.84 604.29,75.84 604.39,75.84 604.49,75.84 604.59,75.84 604.69,75.84 604.79,75.84 604.89,75.84 604.99,75.84 605.09,75.84 605.19,75.84 605.29,75.84 605.38,75.84 605.48,75.84 605.58,75.84 605.68,75.84 605.78,75.84 605.88,75.84 605.98,75.84 606.08,75.84 606.18,75.84 606.28,75.84 606.38,75.84 606.48,75.84 606.58,75.84 606.68,75.84 606.78,75.84 606.88,75.84 606.98,75.84 607.08,75.84 607.18,75.84 607.28,75.84 607.38,75.84 607.48,75.84 607.58,75.84 607.68,75.84 607.78,75.84 607.88,75.84 607.98,75.84 608.07,75.84 608.17,75.84 608.27,75.84 608.37,75.84 608.47,75.84 608.57,75.84 608.67,75.84 608.77,75.84 608.87,75.84 608.97,75.84 609.07,75.84 609.17,75.84 609.27,75.84 609.37,75.84 609.47,75.84 609.57,75.84 609.67,75.84 609.77,75.84 609.87,75.84 609.97,75.84 610.07,75.84 610.17,75.84 610.27,75.84 610.37,75.84 610.47,75.84 610.57,75.84 610.67,75.84 610.76,75.84 610.86,75.84 610.96,75.84 611.06,75.84 611.16,75.84 611.26,75.84 611.36,75.84 611.46,75.84 611.56,75.84 611.66,75.84 611.76,75.84 611.86,75.84 611.96,75.84 612.06,75.84 612.16,75.84 612.26,75.84 612.36,75.84 612.46,75.84 612.56,75.84 612.66,75.84 612.76,75.84 612.86,75.84 612.96,75.84 613.06,75.84 613.16,75.84 613.26,75.84 613.36,75.84 613.45,75.84 613.55,75.84 613.65,75.84 613.75,75.84 613.85,75.84 613.95,75.84 614.05,75.84 614.15,75.84 614.25,75.84 614.35,75.84 614.45,75.84 614.55,75.84 614.65,75.84 614.75,75.84 614.85,75.84 614.95,75.84 615.05,75.84 615.15,75.84 615.25,75.84 615.35,75.84 615.45,75.84 615.55,75.84 615.65,75.84 615.75,75.84 615.85,75.84 615.95,75.84 616.04,75.84 616.14,75.84 616.24,75.84 616.34,75.84 616.44,75.84 616.54,75.84 616.64,75.84 616.74,75.84 616.84,75.84 616.94,75.84 617.04,75.84 617.14,75.84 617.24,75.84 617.34,75.84 617.44,75.84 617.54,75.84 617.64,75.84 617.74,75.84 617.84,75.84 617.94,75.84 618.04,75.84 618.14,75.84 618.24,75.84 618.34,75.84 618.44,75.84 618.54,75.84 618.64,75.84 618.73,75.84 618.83,75.84 618.93,75.84 619.03,75.84 619.13,75.84 619.23,75.84 619.33,75.84 619.43,75.84 619.53,75.84 619.63,75.84 619.73,75.84 619.83,75.84 619.93,75.84 620.03,75.84 620.13,75.84 620.23,75.84 620.33,75.84 620.43,75.84 620.53,75.84 620.63,75.84 620.73,75.84 620.83,75.84 620.93,75.84 621.03,75.84 621.13,75.84 621.23,75.84 621.33,75.84 621.42,75.84 621.52,75.84 621.62,75.84 621.72,75.84 621.82,75.84 621.92,75.84 622.02,75.84 622.12,75.84 622.22,75.84 622.32,75.84 622.42,75.84 622.52,75.84 622.62,75.84 622.72,75.84 622.82,75.84 622.92,75.84 623.02,75.84 623.12,75.84 623.22,75.84 623.32,75.84 623.42,75.84 623.52,75.84 623.62,75.84 623.72,75.84 623.82,75.84 623.92,75.84 624.01,75.84 624.11,75.84 624.21,75.84 624.31,75.84 624.41,75.84 624.51,75.84 624.61,75.84 624.71,75.84 624.81,75.84 624.91,75.84 625.01,75.84 625.11,75.84 625.21,75.84 625.31,75.84 625.41,75.84 625.51,75.84 625.61,75.84 625.71,75.84 625.81,75.84 625.91,75.84 626.01,75.84 626.11,75.84 626.21,75.84 626.31,75.84 626.41,75.84 626.51,75.84 626.61,75.84 626.7,75.84 626.8,75.84 626.9,75.84 627,75.84 627.1,75.84 627.2,75.84 627.3,75.84 627.4,75.84 627.5,75.84 627.6,75.84 627.7,75.84 627.8,75.84 627.9,75.84 628,75.84 628.1,75.83 628.2,75.83 628.3,75.83 628.4,75.83 628.5,75.83 628.6,75.83 628.7,75.83 628.8,75.83 628.9,75.83 629,75.83 629.1,75.83 629.2,75.83 629.29,75.83 629.39,75.83 629.49,75.83 629.59,75.83 629.69,75.83 629.79,75.83 629.89,75.83 629.99,75.83 630.09,75.83 630.19,75.83 630.29,75.83 630.39,75.83 630.49,75.83 630.59,75.83 630.69,75.83 630.79,75.83 630.89,75.83 630.99,75.83 631.09,75.83 631.19,75.83 631.29,75.83 631.39,75.83 631.49,75.83 631.59,75.83 631.69,75.83 631.79,75.83 631.89,75.83 631.98,75.83 632.08,75.83 632.18,75.83 632.28,75.83 632.38,75.83 632.48,75.83 632.58,75.83 632.68,75.83 632.78,75.83 632.88,75.83 632.98,75.83 633.08,75.83 633.18,75.83 633.28,75.83 633.38,75.83 633.48,75.83 633.58,75.83 633.68,75.83 633.78,75.83 633.88,75.83 633.98,75.83 634.08,75.83 634.18,75.83 634.28,75.83 634.38,75.83 634.48,75.83 634.58,75.83 634.67,75.83 634.77,75.83 634.87,75.83 634.97,75.83 635.07,75.83 635.17,75.83 635.27,75.83 635.37,75.83 635.47,75.83 635.57,75.83 635.67,75.83 635.77,75.83 635.87,75.83 635.97,75.83 636.07,75.83 636.17,75.83 636.27,75.83 636.37,75.83 636.47,75.83 636.57,75.83 636.67,75.83 636.77,75.83 636.87,75.83 636.97,75.82 637.07,75.82 637.17,75.82 637.26,75.82 637.36,75.82 637.46,75.82 637.56,75.82 637.66,75.82 637.76,75.82 637.86,75.82 637.96,75.82 638.06,75.82 638.16,75.82 638.26,75.82 638.36,75.82 638.46,75.82 638.56,75.82 638.66,75.81 638.76,75.81 638.86,75.81 638.96,75.81 639.06,75.81 639.16,75.81 639.26,75.8 639.36,75.8 639.46,75.8 639.56,75.79 639.66,75.79 639.76,75.78 639.86,75.77 639.95,75.76 640.05,75.74 640.15,75.72 640.25,75.68 640.35,75.63 640.45,75.52 640.55,75.32 640.65,74.92 640.75,74.29 640.8,74.15 640.85,74.3 640.95,74.93 641.05,75.33 641.15,75.52 641.25,75.62 641.35,75.67 641.45,75.71 641.55,75.73 641.65,75.74 641.75,75.75 641.85,75.75 641.95,75.76 642.05,75.76 642.15,75.76 642.25,75.76 642.35,75.76 642.45,75.75 642.55,75.75 642.64,75.75 642.74,75.74 642.84,75.73 642.94,75.72 643.04,75.71 643.14,75.69 643.24,75.68 643.34,75.65 643.44,75.62 643.54,75.58 643.64,75.53 643.74,75.45 643.84,75.34 643.94,75.17 644.04,74.9 644.14,74.42 644.24,73.49 644.34,71.6 644.44,68.4 644.5,67.28 644.54,67.73 644.64,70.91 644.74,73.15 644.84,74.24 644.94,74.8 645.04,75.11 645.14,75.3 645.24,75.42 645.33,75.5 645.43,75.56 645.53,75.6 645.63,75.63 645.73,75.66 645.83,75.67 645.93,75.69 646.03,75.7 646.13,75.71 646.23,75.72 646.33,75.72 646.43,75.73 646.53,75.73 646.63,75.73 646.73,75.73 646.83,75.73 646.93,75.73 647.03,75.73 647.13,75.73 647.23,75.73 647.33,75.73 647.43,75.73 647.53,75.72 647.63,75.72 647.73,75.71 647.83,75.71 647.92,75.7 648.02,75.7 648.12,75.69 648.22,75.68 648.32,75.67 648.42,75.66 648.52,75.64 648.62,75.63 648.72,75.61 648.82,75.59 648.92,75.56 649.02,75.53 649.12,75.5 649.22,75.45 649.32,75.4 649.42,75.33 649.52,75.25 649.62,75.15 649.72,75.01 649.82,74.82 649.92,74.57 650.02,74.2 650.12,73.64 650.22,72.75 650.32,71.23 650.42,68.36 650.52,62.51 650.61,51.55 650.7,44.61 650.71,44.86 650.81,55.17 650.91,64.65 651.01,69.39 651.11,71.76 651.21,73.05 651.31,73.82 651.41,74.31 651.51,74.65 651.61,74.88 651.71,75.05 651.81,75.17 651.91,75.27 652.01,75.35 652.11,75.41 652.21,75.45 652.31,75.49 652.41,75.53 652.51,75.56 652.61,75.58 652.71,75.6 652.81,75.62 652.91,75.63 653.01,75.64 653.11,75.65 653.21,75.66 653.3,75.67 653.4,75.68 653.5,75.68 653.6,75.69 653.7,75.69 653.8,75.69 653.9,75.7 654,75.7 654.1,75.7 654.2,75.7 654.3,75.7 654.4,75.7 654.5,75.7 654.6,75.7 654.7,75.7 654.8,75.7 654.9,75.7 655,75.7 655.1,75.69 655.2,75.69 655.3,75.69 655.4,75.68 655.5,75.68 655.6,75.67 655.7,75.66 655.8,75.66 655.89,75.65 655.99,75.64 656.09,75.63 656.19,75.62 656.29,75.6 656.39,75.59 656.49,75.57 656.59,75.55 656.69,75.53 656.79,75.5 656.89,75.48 656.99,75.44 657.09,75.4 657.19,75.36 657.29,75.31 657.39,75.24 657.49,75.17 657.59,75.07 657.69,74.96 657.79,74.82 657.89,74.63 657.99,74.4 658.09,74.08 658.19,73.65 658.29,73.03 658.39,72.12 658.49,70.68 658.58,68.28 658.68,63.9 658.78,55.13 658.88,37.55 658.98,17.8 659,17.16 659.08,29.64 659.18,50.43 659.28,61.62 659.38,67.11 659.48,70.02 659.58,71.71 659.68,72.77 659.78,73.47 659.88,73.95 659.98,74.3 660.08,74.56 660.18,74.76 660.28,74.92 660.38,75.04 660.48,75.14 660.58,75.22 660.68,75.29 660.78,75.35 660.88,75.39 660.98,75.44 661.08,75.47 661.17,75.5 661.27,75.53 661.37,75.55 661.47,75.57 661.57,75.59 661.67,75.6 661.77,75.62 661.87,75.63 661.97,75.64 662.07,75.65 662.17,75.66 662.27,75.67 662.37,75.68 662.47,75.69 662.57,75.69 662.67,75.7 662.77,75.7 662.87,75.71 662.97,75.71 663.07,75.72 663.17,75.72 663.27,75.72 663.37,75.73 663.47,75.73 663.57,75.73 663.67,75.73 663.77,75.73 663.86,75.74 663.96,75.74 664.06,75.74 664.16,75.74 664.26,75.74 664.36,75.74 664.46,75.74 664.56,75.74 664.66,75.74 664.76,75.74 664.86,75.74 664.96,75.74 665.06,75.74 665.16,75.74 665.26,75.74 665.36,75.74 665.46,75.74 665.56,75.73 665.66,75.73 665.76,75.73 665.86,75.73 665.96,75.73 666.06,75.72 666.16,75.72 666.26,75.72 666.36,75.71 666.46,75.71 666.55,75.7 666.65,75.7 666.75,75.69 666.85,75.69 666.95,75.68 667.05,75.67 667.15,75.66 667.25,75.65 667.35,75.64 667.45,75.63 667.55,75.62 667.65,75.6 667.75,75.59 667.85,75.57 667.95,75.55 668.05,75.52 668.15,75.5 668.25,75.47 668.35,75.43 668.45,75.39 668.55,75.34 668.65,75.28 668.75,75.21 668.85,75.12 668.95,75.02 669.05,74.89 669.14,74.72 669.24,74.51 669.34,74.23 669.44,73.85 669.54,73.32 669.64,72.55 669.74,71.37 669.84,69.46 669.94,66.09 670.04,59.6 670.14,46.27 670.24,24.08 670.3,16.96 670.34,20.53 670.44,42.62 670.54,57.78 670.64,65.19 670.74,68.97 670.84,71.09 670.94,72.37 671.04,73.2 671.14,73.77 671.24,74.17 671.34,74.47 671.44,74.69 671.54,74.87 671.64,75 671.74,75.11 671.83,75.2 671.93,75.27 672.03,75.34 672.13,75.39 672.23,75.43 672.33,75.47 672.43,75.5 672.53,75.53 672.63,75.56 672.73,75.58 672.83,75.6 672.93,75.62 673.03,75.63 673.13,75.64 673.23,75.66 673.33,75.67 673.43,75.68 673.53,75.69 673.63,75.7 673.73,75.7 673.83,75.71 673.93,75.72 674.03,75.72 674.13,75.73 674.23,75.73 674.33,75.74 674.43,75.74 674.52,75.75 674.62,75.75 674.72,75.76 674.82,75.76 674.92,75.76 675.02,75.77 675.12,75.77 675.22,75.77 675.32,75.77 675.42,75.78 675.52,75.78 675.62,75.78 675.72,75.78 675.82,75.78 675.92,75.79 676.02,75.79 676.12,75.79 676.22,75.79 676.32,75.79 676.42,75.79 676.52,75.8 676.62,75.8 676.72,75.8 676.82,75.8 676.92,75.8 677.02,75.8 677.12,75.8 677.21,75.8 677.31,75.8 677.41,75.8 677.51,75.81 677.61,75.81 677.71,75.81 677.81,75.81 677.91,75.81 678.01,75.81 678.11,75.81 678.21,75.81 678.31,75.81 678.41,75.81 678.51,75.81 678.61,75.81 678.71,75.81 678.81,75.81 678.91,75.81 679.01,75.82 679.11,75.82 679.21,75.82 679.31,75.82 679.41,75.82 679.51,75.82 679.61,75.82 679.71,75.82 679.8,75.82 679.9,75.82 680,75.82 680.1,75.82 680.2,75.82 680.3,75.82 680.4,75.82 680.5,75.82 680.6,75.82 680.7,75.82 680.8,75.82 680.9,75.82 681,75.82 681.1,75.82" fill="none" stroke="#2a7d64" stroke-width="1.0" stroke-linejoin="round" />
<polyline clip-path="url(#cb2)" points="601.4,74.38 601.4,73.96 602.79,73.24 604.19,73.11 605.58,73.27 606.98,72.93 608.37,72.98 609.77,72.57 611.17,71.72 612.56,71.59 613.96,71.87 615.35,71.13 616.75,71.17 618.14,69.72 619.54,68.8 620.94,70.75 622.33,71.22 623.73,71.17 625.82,69.78 627.22,59.31 628.61,67.68 630.7,69.08 632.1,69.08 633.5,69.78 635.59,53.03 636.99,66.29 638.38,57.91 639.08,64.89 640.47,67.68 642.57,57.91 644.66,46.75 646.06,64.89 647.45,57.91 648.15,70.47 649.55,63.5 650.94,60.01 653.04,41.17 654.43,57.91 655.83,48.14 657.22,62.1 658.62,66.99 660.01,59.2 661.41,50.94 662.81,62.1 664.48,46.75 666.29,64.89 668.39,55.12 669.78,38.37 671.18,66.29 672.58,67.15 673.97,67.68 675.37,52.67 676.76,38.37 678.16,28.6 679.55,62.1 680.95,65.59 681.51,66.01" fill="none" stroke="#cf6338" stroke-width="1.0" stroke-linejoin="round"/>
<path d="M601.4 85v-1.6 M601.4 12.6v1.6 M621.33 85v-1.6 M621.33 12.6v1.6 M641.25 85v-1.6 M641.25 12.6v1.6 M661.17 85v-1.6 M661.17 12.6v1.6 M681.1 85v-1.6 M681.1 12.6v1.6 M601.4 74.8h1.6 M681.1 74.8h-1.6 M601.4 54h1.6 M681.1 54h-1.6 M601.4 33.2h1.6 M681.1 33.2h-1.6" stroke="#262626" stroke-width="0.8" fill="none"/>
<rect x="601.4" y="12.6" width="79.7" height="72.4" fill="none" stroke="#262626" stroke-width="0.85"/>
<text x="597.5" y="37.3" font-family='"Liberation Serif", serif' font-size="12.4" text-anchor="end" fill="#1a1a1a"  >0.02</text>
<text x="597.5" y="79.9" font-family='"Liberation Serif", serif' font-size="12.4" text-anchor="end" fill="#1a1a1a"  >0</text>
<text x="608.5" y="26.4" font-family='"Liberation Sans", sans-serif' font-size="10.3" text-anchor="start" fill="#1a1a1a"  stroke="#1a1a1a" stroke-width="0.2">(b-ii)</text>
<g transform="translate(580.5 60.5) rotate(-90)"><text x="-16.01" y="0" font-family='"Liberation Serif", serif' font-size="12.6" font-style="italic">G</text><path d="M-5.66 3.78 V-2.52 M-7.36 -0.76 L-5.66 -2.77 L-3.96 -0.76" stroke="#1a1a1a" stroke-width="0.8" fill="none"/><text x="-2.63" y="0" font-family='"Liberation Serif", serif' font-size="12.6" font-style="italic">/G</text><text x="10.6" y="2.27" font-family='"Liberation Serif", serif' font-size="9.32">0</text></g>
<clipPath id="cb3"><rect x="600.7" y="103" width="80.4" height="73.7"/></clipPath>
<polyline clip-path="url(#cb3)" points="600.7,118.6 600.75,119.12 600.8,119.64 600.85,120.16 600.9,120.68 600.95,121.19 601,121.71 601.05,122.23 601.1,122.75 601.15,123.27 601.2,123.79 601.25,124.31 601.3,124.83 601.35,125.35 601.4,125.86 601.45,126.38 601.5,126.9 601.55,127.42 601.6,127.94 601.65,128.46 601.71,128.98 601.76,129.5 601.81,130.01 601.86,130.53 601.91,131.05 601.96,131.57 602.01,132.09 602.06,132.61 602.11,133.13 602.16,133.65 602.21,134.17 602.26,134.68 602.31,135.2 602.36,135.72 602.41,136.24 602.46,136.76 602.51,137.28 602.56,137.8 602.61,138.32 602.66,138.84 602.71,139.35 602.76,139.87 602.81,140.39 602.86,140.91 602.91,141.43 602.96,141.95 603.01,142.47 603.06,142.99 603.11,143.51 603.16,144.02 603.21,144.54 603.26,145.06 603.31,145.58 603.36,146.1 603.41,146.62 603.46,147.14 603.51,147.66 603.56,148.18 603.61,148.69 603.66,149.21 603.72,149.73 603.77,150.25 603.82,150.77 603.87,151.29 603.92,151.81 603.97,152.33 604.02,152.84 604.07,153.36 604.12,153.88 604.17,154.4 604.22,154.92 604.27,155.44 604.32,155.96 604.37,156.48 604.42,157 604.47,157.51 604.52,158.03 604.57,158.55 604.62,159.07 604.67,159.59 604.72,160.11 604.77,160.63 604.82,161.15 604.87,161.67 604.92,162.18 604.97,162.7 605.02,170 605.07,170 605.12,170 605.17,170 605.22,170 605.27,170 605.32,161.08 605.37,156.9 605.42,152.71 605.47,148.52 605.52,144.33 605.57,140.15 605.62,135.96 605.67,131.77 605.73,127.58 605.78,123.4 605.83,119.21 605.88,115.02 605.93,110.83 605.98,106.65 606.03,102.46 606.08,98.27 606.13,94.08 606.18,89.9 606.23,89.76 606.28,92.86 606.33,95.82 606.38,98.64 606.43,101.32 606.48,103.89 606.53,106.34 606.58,108.67 606.63,110.91 606.68,113.04 606.73,115.09 606.78,117.04 606.83,118.91 606.88,120.7 606.93,122.42 606.98,124.06 607.03,125.64 607.08,127.16 607.13,128.61 607.18,130 607.23,131.34 607.28,132.63 607.33,133.87 607.38,135.06 607.43,136.2 607.48,137.3 607.53,138.36 607.58,139.38 607.63,140.36 607.68,141.3 607.74,142.21 607.79,143.09 607.84,143.93 607.89,144.74 607.94,145.52 607.99,146.28 608.04,147 608.09,147.7 608.14,148.38 608.19,149.03 608.24,149.65 608.29,150.25 608.34,150.83 608.39,151.39 608.44,151.92 608.49,152.43 608.54,152.93 608.59,153.4 608.64,153.86 608.69,154.29 608.74,154.71 608.79,155.11 608.84,155.49 608.89,155.85 608.94,156.2 608.99,156.53 609.04,156.85 609.09,157.15 609.14,157.43 609.19,157.69 609.24,157.95 609.29,158.18 609.34,158.4 609.39,158.61 609.44,158.8 609.49,158.98 609.54,159.14 609.59,159.29 609.64,159.43 609.69,159.55 609.75,159.66 609.8,159.75 609.85,159.83 609.9,159.9 609.95,159.95 610,160 610.05,160.02 610.1,160.04 610.15,160.04 610.2,160.03 610.25,160.01 610.3,159.99 610.35,156.21 610.4,152.66 610.45,149.11 610.5,145.55 610.55,142 610.6,138.45 610.65,134.9 610.7,131.35 610.75,127.8 610.8,124.25 610.85,120.7 610.9,117.15 610.95,113.6 611,110.05 611.05,106.49 611.1,102.94 611.15,99.39 611.2,96.12 611.25,98.84 611.3,101.42 611.35,103.89 611.4,106.24 611.45,108.48 611.5,110.63 611.55,112.67 611.6,114.63 611.65,116.5 611.7,118.29 611.75,120 611.81,121.64 611.86,123.21 611.91,124.71 611.96,126.16 612.01,127.54 612.06,128.87 612.11,130.15 612.16,131.37 612.21,132.55 612.26,133.68 612.31,134.77 612.36,135.81 612.41,136.82 612.46,137.79 612.51,138.72 612.56,139.62 612.61,140.49 612.66,141.32 612.71,142.13 612.76,142.9 612.81,143.65 612.86,144.37 612.91,145.06 612.96,145.73 613.01,146.38 613.06,147 613.11,147.6 613.16,148.18 613.21,148.73 613.26,149.27 613.31,149.79 613.36,150.29 613.41,150.77 613.46,151.23 613.51,151.68 613.56,152.1 613.61,152.52 613.66,152.91 613.71,153.29 613.76,153.65 613.82,154 613.87,154.34 613.92,154.66 613.97,154.96 614.02,155.25 614.07,155.53 614.12,155.8 614.17,156.05 614.22,156.28 614.27,156.51 614.32,156.72 614.37,156.92 614.42,157.11 614.47,157.28 614.52,157.45 614.57,157.6 614.62,157.73 614.67,157.86 614.72,157.98 614.77,158.08 614.82,158.17 614.87,158.25 614.92,158.32 614.97,158.38 615.02,158.43 615.07,158.46 615.12,158.49 615.17,158.5 615.22,158.51 615.27,158.51 615.32,157.11 615.37,154.04 615.42,150.97 615.47,147.9 615.52,144.83 615.57,141.76 615.62,138.68 615.67,135.61 615.72,132.54 615.78,129.47 615.83,126.4 615.88,123.33 615.93,120.26 615.98,117.19 616.03,114.12 616.08,111.05 616.13,107.98 616.18,104.91 616.23,104.83 616.28,107.2 616.33,109.46 616.38,111.62 616.43,113.68 616.48,115.64 616.53,117.52 616.58,119.32 616.63,121.04 616.68,122.68 616.73,124.26 616.78,125.76 616.83,127.21 616.88,128.59 616.93,129.92 616.98,131.19 617.03,132.41 617.08,133.58 617.13,134.71 617.18,135.79 617.23,136.83 617.28,137.82 617.33,138.78 617.38,139.7 617.43,140.59 617.48,141.44 617.53,142.26 617.58,143.05 617.63,143.81 617.68,144.54 617.73,145.24 617.79,145.92 617.84,146.57 617.89,147.19 617.94,147.79 617.99,148.37 618.04,148.93 618.09,149.46 618.14,149.97 618.19,150.46 618.24,150.94 618.29,151.39 618.34,151.83 618.39,152.24 618.44,152.64 618.49,153.02 618.54,153.39 618.59,153.73 618.64,154.07 618.69,154.38 618.74,154.68 618.79,154.97 618.84,155.24 618.89,155.49 618.94,155.73 618.99,155.96 619.04,156.17 619.09,156.37 619.14,156.56 619.19,156.73 619.24,156.89 619.29,157.03 619.34,157.17 619.39,157.29 619.44,157.39 619.49,157.49 619.54,157.57 619.59,157.64 619.64,157.69 619.69,157.74 619.74,157.77 619.8,157.79 619.85,155.45 619.9,152.62 619.95,149.79 620,146.96 620.05,144.13 620.1,141.3 620.15,138.47 620.2,135.64 620.25,132.8 620.3,129.97 620.35,127.14 620.4,124.31 620.45,121.48 620.5,118.65 620.55,115.82 620.6,112.99 620.65,110.16 620.7,107.33 620.75,109.63 620.8,111.88 620.85,114.02 620.9,116.07 620.95,118.03 621,119.9 621.05,121.69 621.1,123.41 621.15,125.05 621.2,126.62 621.25,128.12 621.3,129.56 621.35,130.94 621.4,132.26 621.45,133.53 621.5,134.74 621.55,135.91 621.6,137.02 621.65,138.09 621.7,139.12 621.75,140.11 621.81,141.06 621.86,141.97 621.91,142.84 621.96,143.67 622.01,144.48 622.06,145.25 622.11,145.98 622.16,146.69 622.21,147.37 622.26,148.02 622.31,148.64 622.36,149.24 622.41,149.81 622.46,150.36 622.51,150.88 622.56,151.37 622.61,151.85 622.66,152.3 622.71,152.73 622.76,153.14 622.81,153.53 622.86,153.9 622.91,154.25 622.96,154.58 623.01,154.89 623.06,155.18 623.11,155.45 623.16,155.7 623.21,155.94 623.26,156.16 623.31,156.36 623.36,156.55 623.41,156.72 623.46,156.87 623.51,157 623.56,157.12 623.61,157.23 623.66,157.31 623.71,157.2 623.76,154.42 623.82,151.65 623.87,148.87 623.92,146.1 623.97,143.32 624.02,140.55 624.07,137.77 624.12,135 624.17,132.23 624.22,129.45 624.27,126.68 624.32,123.9 624.37,121.13 624.42,118.35 624.47,115.58 624.52,112.8 624.57,110.03 624.62,109.23 624.67,111.62 624.72,113.9 624.77,116.08 624.82,118.16 624.87,120.16 624.92,122.06 624.97,123.88 625.02,125.63 625.07,127.3 625.12,128.89 625.17,130.42 625.22,131.89 625.27,133.29 625.32,134.63 625.37,135.92 625.42,137.15 625.47,138.33 625.52,139.46 625.57,140.54 625.62,141.58 625.67,142.57 625.72,143.52 625.77,144.43 625.83,145.3 625.88,146.13 625.93,146.92 625.98,147.68 626.03,148.41 626.08,149.1 626.13,149.75 626.18,150.38 626.23,150.98 626.28,151.54 626.33,152.08 626.38,152.59 626.43,153.07 626.48,153.52 626.53,153.95 626.58,154.35 626.63,154.73 626.68,155.08 626.73,155.41 626.78,155.71 626.83,155.99 626.88,156.25 626.93,156.48 626.98,156.7 627.03,156.89 627.08,157.06 627.13,156.88 627.18,154.29 627.23,151.71 627.28,149.12 627.33,146.54 627.38,143.95 627.43,141.37 627.48,138.78 627.53,136.2 627.58,133.61 627.63,131.03 627.68,128.44 627.73,125.86 627.78,123.27 627.84,120.69 627.89,118.1 627.94,115.52 627.99,112.93 628.04,113.89 628.09,116.17 628.14,118.34 628.19,120.42 628.24,122.4 628.29,124.3 628.34,126.12 628.39,127.85 628.44,129.51 628.49,131.1 628.54,132.62 628.59,134.08 628.64,135.47 628.69,136.8 628.74,138.08 628.79,139.3 628.84,140.47 628.89,141.58 628.94,142.65 628.99,143.67 629.04,144.64 629.09,145.57 629.14,146.46 629.19,147.3 629.24,148.11 629.29,148.88 629.34,149.61 629.39,150.31 629.44,150.97 629.49,151.59 629.54,152.19 629.59,152.75 629.64,153.28 629.69,153.77 629.74,154.24 629.79,154.68 629.85,155.09 629.9,155.47 629.95,155.83 630,156.16 630.05,156.46 630.1,156.73 630.15,156.98 630.2,157.21 630.25,157.15 630.3,154.96 630.35,152.78 630.4,150.59 630.45,148.4 630.5,146.21 630.55,144.02 630.6,141.83 630.65,139.64 630.7,137.45 630.75,135.27 630.8,133.08 630.85,130.89 630.9,128.7 630.95,126.51 631,124.32 631.05,122.13 631.1,120.06 631.15,122.23 631.2,124.3 631.25,126.28 631.3,128.17 631.35,129.98 631.4,131.71 631.45,133.36 631.5,134.93 631.55,136.43 631.6,137.87 631.65,139.24 631.7,140.54 631.75,141.79 631.8,142.97 631.86,144.1 631.91,145.17 631.96,146.19 632.01,147.16 632.06,148.08 632.11,148.95 632.16,149.77 632.21,150.55 632.26,151.29 632.31,151.98 632.36,152.63 632.41,153.24 632.46,153.81 632.51,154.34 632.56,154.83 632.61,155.29 632.66,155.7 632.71,156.09 632.76,156.43 632.81,156.25 632.86,154.71 632.91,153.18 632.96,151.64 633.01,150.1 633.06,148.57 633.11,147.03 633.16,145.5 633.21,143.96 633.26,142.43 633.31,140.89 633.36,139.36 633.41,137.82 633.46,136.29 633.51,134.75 633.56,133.22 633.61,132.57 633.66,134.24 633.71,135.82 633.76,137.34 633.81,138.78 633.87,140.15 633.92,141.46 633.97,142.71 634.02,143.89 634.07,145.01 634.12,146.08 634.17,147.09 634.22,148.05 634.27,148.95 634.32,149.81 634.37,150.61 634.42,151.37 634.47,152.08 634.52,152.74 634.57,153.36 634.62,153.94 634.67,154.47 634.72,154.96 634.77,155.42 634.82,155.83 634.87,156.2 634.92,155.29 634.97,154.31 635.02,153.33 635.07,152.34 635.12,151.36 635.17,150.38 635.22,149.4 635.27,148.41 635.32,147.43 635.37,146.45 635.42,145.47 635.47,144.48 635.52,143.5 635.57,142.52 635.62,142.64 635.67,143.95 635.72,145.19 635.77,146.35 635.82,147.44 635.88,148.47 635.93,149.43 635.98,150.33 636.03,151.17 636.08,151.94 636.13,152.65 636.18,153.31 636.23,153.9 636.28,154.44 636.33,154.92 636.38,155.22 636.43,154.72 636.48,154.22 636.53,153.72 636.58,153.21 636.63,152.71 636.68,152.21 636.73,151.71 636.78,151.2 636.83,150.7 636.88,150.2 636.93,150.46 636.98,151.18 637.03,151.86 637.08,152.49 637.13,153.08 637.18,153.63 637.23,154.13 637.28,154.59 637.33,155.02 637.38,155.4 637.43,155.75 637.48,155.73 637.53,155.37 637.58,155.01 637.63,154.65 637.68,154.28 637.73,153.92 637.78,153.56 637.83,153.19 637.88,152.83 637.94,152.47 637.99,152.1 638.04,152.34 638.09,152.81 638.14,153.25 638.19,153.67 638.24,154.07 638.29,154.44 638.34,154.8 638.39,155.14 638.44,155.45 638.49,155.75 638.54,156.03 638.59,156.29 638.64,158.59 638.69,158.7 638.74,158.81 638.79,158.92 638.84,159.03 638.89,159.14 638.94,159.26 638.99,159.37 639.04,159.48 639.09,159.59 639.14,159.7 639.19,159.81 639.24,159.93 639.29,160.04 639.34,160.15 639.39,160.26 639.44,160.37 639.49,160.48 639.54,160.5 639.59,160.51 639.64,160.53 639.69,160.56 639.74,160.6 639.79,160.64 639.84,160.69 639.89,160.75 639.95,160.81 640,160.89 640.05,160.97 640.1,161.06 640.15,161.15 640.2,161.25 640.25,161.36 640.3,161.47 640.35,161.59 640.4,161.71 640.45,161.84 640.5,161.97 640.55,162.11 640.6,162.25 640.65,162.39 640.7,162.54 640.75,162.68 640.8,162.84 640.85,162.99 640.9,163.14 640.95,163.3 641,163.45 641.05,163.61 641.1,163.76 641.15,163.92 641.2,164.07 641.25,164.22 641.3,164.37 641.35,164.51 641.4,164.66 641.45,164.8 641.5,164.93 641.55,165.07 641.6,165.19 641.65,165.32 641.7,165.43 641.75,165.55 641.8,165.65 641.85,165.75 641.9,165.85 641.96,165.93 642.01,166.01 642.06,166.09 642.11,166.15 642.16,166.21 642.21,166.26 642.26,166.3 642.31,166.34 642.36,166.37 642.41,166.39 642.46,166.4 642.51,166.4 642.56,166.4 642.61,166.4 642.66,166.4 642.71,166.4 642.76,166.4 642.81,166.4 642.86,166.4 642.91,166.4 642.96,166.4 643.01,166.4 643.06,166.4 643.11,166.4 643.16,166.4 643.21,166.4 643.26,166.4 643.31,166.4 643.36,166.4 643.41,166.4 643.46,166.4 643.51,166.4 643.56,166.4 643.61,166.4 643.66,166.4 643.71,166.4 643.76,166.4 643.81,166.4 643.86,166.4 643.92,166.4 643.97,166.4 644.02,166.4 644.07,166.4 644.12,166.4 644.17,166.4 644.22,166.4 644.27,166.4 644.32,166.4 644.37,166.4 644.42,166.4 644.47,166.4 644.52,166.4 644.57,166.4 644.62,166.4 644.67,166.4 644.72,166.4 644.77,166.4 644.82,166.4 644.87,166.4 644.92,166.4 644.97,166.4 645.02,166.4 645.07,166.4 645.12,166.4 645.17,166.4 645.22,166.4 645.27,166.4 645.32,166.4 645.37,166.4 645.42,166.4 645.47,166.4 645.52,166.4 645.57,166.4 645.62,166.4 645.67,166.4 645.72,166.4 645.77,166.4 645.82,166.4 645.87,166.4 645.93,166.4 645.98,166.4 646.03,166.4 646.08,166.4 646.13,166.4 646.18,166.4 646.23,166.4 646.28,166.4 646.33,166.4 646.38,166.4 646.43,166.4 646.48,166.4 646.53,166.4 646.58,166.4 646.63,166.4 646.68,166.4 646.73,166.4 646.78,166.4 646.83,166.4 646.88,166.4 646.93,166.4 646.98,166.4 647.03,166.4 647.08,166.4 647.13,166.4 647.18,166.4 647.23,166.4 647.28,166.4 647.33,166.4 647.38,166.4 647.43,166.4 647.48,166.4 647.53,166.4 647.58,166.4 647.63,166.4 647.68,166.4 647.73,166.4 647.78,166.4 647.83,166.4 647.88,166.4 647.94,166.4 647.99,166.4 648.04,166.4 648.09,166.4 648.14,166.4 648.19,166.4 648.24,166.4 648.29,166.4 648.34,166.4 648.39,166.4 648.44,166.4 648.49,166.4 648.54,166.4 648.59,166.4 648.64,166.4 648.69,166.4 648.74,166.4 648.79,166.4 648.84,166.4 648.89,166.4 648.94,166.4 648.99,166.4 649.04,166.4 649.09,166.4 649.14,166.4 649.19,166.4 649.24,166.4 649.29,166.4 649.34,166.4 649.39,166.4 649.44,166.4 649.49,166.4 649.54,166.4 649.59,166.4 649.64,166.4 649.69,166.4 649.74,166.4 649.79,166.4 649.84,166.4 649.89,166.4 649.95,166.4 650,166.4 650.05,166.4 650.1,166.4 650.15,166.4 650.2,166.4 650.25,166.4 650.3,166.4 650.35,166.4 650.4,166.4 650.45,166.4 650.5,166.4 650.55,166.4 650.6,166.4 650.65,166.4 650.7,166.4 650.75,166.4 650.8,166.4 650.85,166.4 650.9,166.4 650.95,166.4 651,166.4 651.05,166.4 651.1,166.4 651.15,166.4 651.2,166.4 651.25,166.4 651.3,166.4 651.35,166.4 651.4,166.4 651.45,166.4 651.5,166.4 651.55,166.4 651.6,166.4 651.65,166.4 651.7,166.4 651.75,166.4 651.8,166.4 651.85,166.4 651.9,166.4 651.96,166.4 652.01,166.4 652.06,166.4 652.11,166.4 652.16,166.4 652.21,166.4 652.26,166.4 652.31,166.4 652.36,166.4 652.41,166.4 652.46,166.4 652.51,166.4 652.56,166.4 652.61,166.4 652.66,166.4 652.71,166.4 652.76,166.4 652.81,166.4 652.86,166.4 652.91,166.4 652.96,166.4 653.01,166.4 653.06,166.4 653.11,166.4 653.16,166.4 653.21,166.4 653.26,166.4 653.31,166.4 653.36,166.4 653.41,166.4 653.46,166.4 653.51,166.4 653.56,166.4 653.61,166.4 653.66,166.4 653.71,166.4 653.76,166.4 653.81,166.4 653.86,166.4 653.91,166.4 653.97,166.4 654.02,166.4 654.07,166.4 654.12,166.4 654.17,166.4 654.22,166.4 654.27,166.4 654.32,166.4 654.37,166.4 654.42,166.4 654.47,166.4 654.52,166.4 654.57,166.4 654.62,166.4 654.67,166.4 654.72,166.4 654.77,166.4 654.82,166.4 654.87,166.4 654.92,166.4 654.97,166.4 655.02,166.4 655.07,166.4 655.12,166.4 655.17,166.4 655.22,166.4 655.27,166.4 655.32,166.4 655.37,166.4 655.42,166.4 655.47,166.4 655.52,166.4 655.57,166.4 655.62,166.4 655.67,166.4 655.72,166.4 655.77,166.4 655.82,166.4 655.87,166.4 655.92,166.4 655.98,166.4 656.03,166.4 656.08,166.4 656.13,166.4 656.18,166.4 656.23,166.4 656.28,166.4 656.33,166.4 656.38,166.4 656.43,166.4 656.48,166.4 656.53,166.4 656.58,166.4 656.63,166.4 656.68,166.4 656.73,166.4 656.78,166.4 656.83,166.4 656.88,166.4 656.93,166.4 656.98,166.4 657.03,166.4 657.08,166.4 657.13,166.4 657.18,166.4 657.23,166.4 657.28,166.4 657.33,166.4 657.38,166.4 657.43,166.4 657.48,166.4 657.53,166.4 657.58,166.4 657.63,166.4 657.68,166.4 657.73,166.4 657.78,166.4 657.83,166.4 657.88,166.4 657.93,166.4 657.99,166.4 658.04,166.4 658.09,166.4 658.14,166.4 658.19,166.4 658.24,166.4 658.29,166.4 658.34,166.4 658.39,166.4 658.44,166.4 658.49,166.4 658.54,166.4 658.59,166.4 658.64,166.4 658.69,166.4 658.74,166.4 658.79,166.4 658.84,166.4 658.89,166.4 658.94,166.4 658.99,166.4 659.04,166.4 659.09,166.4 659.14,166.4 659.19,166.4 659.24,166.4 659.29,166.4 659.34,166.4 659.39,166.4 659.44,166.4 659.49,166.4 659.54,166.4 659.59,166.4 659.64,166.4 659.69,166.4 659.74,166.4 659.79,166.4 659.84,166.4 659.89,166.4 659.94,166.4 660,166.4 660.05,166.4 660.1,166.4 660.15,166.4 660.2,166.4 660.25,166.4 660.3,166.4 660.35,166.4 660.4,166.4 660.45,166.4 660.5,166.4 660.55,166.4 660.6,166.4 660.65,166.4 660.7,166.4 660.75,166.4 660.8,166.4 660.85,166.4 660.9,166.4 660.95,166.4 661,166.4 661.05,166.4 661.1,166.4 661.15,166.4 661.2,166.4 661.25,166.4 661.3,166.4 661.35,166.4 661.4,166.4 661.45,166.4 661.5,166.4 661.55,166.4 661.6,166.4 661.65,166.4 661.7,166.4 661.75,166.4 661.8,166.4 661.85,166.4 661.9,166.4 661.95,166.4 662,166.4 662.06,166.4 662.11,166.4 662.16,166.4 662.21,166.4 662.26,166.4 662.31,166.4 662.36,166.4 662.41,166.4 662.46,166.4 662.51,166.4 662.56,166.4 662.61,166.4 662.66,166.4 662.71,166.4 662.76,166.4 662.81,166.4 662.86,166.4 662.91,166.4 662.96,166.4 663.01,166.4 663.06,166.4 663.11,166.4 663.16,166.4 663.21,166.4 663.26,166.4 663.31,166.4 663.36,166.4 663.41,166.4 663.46,166.4 663.51,166.4 663.56,166.4 663.61,166.4 663.66,166.4 663.71,166.4 663.76,166.4 663.81,166.4 663.86,166.4 663.91,166.4 663.96,166.4 664.01,166.4 664.07,166.4 664.12,166.4 664.17,166.4 664.22,166.4 664.27,166.4 664.32,166.4 664.37,166.4 664.42,166.4 664.47,166.4 664.52,166.4 664.57,166.4 664.62,166.4 664.67,166.4 664.72,166.4 664.77,166.4 664.82,166.4 664.87,166.4 664.92,166.4 664.97,166.4 665.02,166.4 665.07,166.4 665.12,166.4 665.17,166.4 665.22,166.4 665.27,166.4 665.32,166.4 665.37,166.4 665.42,166.4 665.47,166.4 665.52,166.4 665.57,166.4 665.62,166.4 665.67,166.4 665.72,166.4 665.77,166.4 665.82,166.4 665.87,166.4 665.92,166.4 665.97,166.4 666.03,166.4 666.08,166.4 666.13,166.4 666.18,166.4 666.23,166.4 666.28,166.4 666.33,166.4 666.38,166.4 666.43,166.4 666.48,166.4 666.53,166.4 666.58,166.4 666.63,166.4 666.68,166.4 666.73,166.4 666.78,166.4 666.83,166.4 666.88,166.4 666.93,166.4 666.98,166.4 667.03,166.4 667.08,166.4 667.13,166.4 667.18,166.4 667.23,166.4 667.28,166.4 667.33,166.4 667.38,166.4 667.43,166.4 667.48,166.4 667.53,166.4 667.58,166.4 667.63,166.4 667.68,166.4 667.73,166.4 667.78,166.4 667.83,166.4 667.88,166.4 667.93,166.4 667.98,166.4 668.04,166.4 668.09,166.4 668.14,166.4 668.19,166.4 668.24,166.4 668.29,166.4 668.34,166.4 668.39,166.4 668.44,166.4 668.49,166.4 668.54,166.4 668.59,166.4 668.64,166.4 668.69,166.4 668.74,166.4 668.79,166.4 668.84,166.4 668.89,166.4 668.94,166.4 668.99,166.4 669.04,166.4 669.09,166.4 669.14,166.4 669.19,166.4 669.24,166.4 669.29,166.4 669.34,166.4 669.39,166.4 669.44,166.4 669.49,166.4 669.54,166.4 669.59,166.4 669.64,166.4 669.69,166.4 669.74,166.4 669.79,166.4 669.84,166.4 669.89,166.4 669.94,166.4 669.99,166.4 670.05,166.4 670.1,166.4 670.15,166.4 670.2,166.4 670.25,166.4 670.3,166.4 670.35,166.4 670.4,166.4 670.45,166.4 670.5,166.4 670.55,166.4 670.6,166.4 670.65,166.4 670.7,166.4 670.75,166.4 670.8,166.4 670.85,166.4 670.9,166.4 670.95,166.4 671,166.4 671.05,166.4 671.1,166.4 671.15,166.4 671.2,166.4 671.25,166.4 671.3,166.4 671.35,166.4 671.4,166.4 671.45,166.4 671.5,166.4 671.55,166.4 671.6,166.4 671.65,166.4 671.7,166.4 671.75,166.4 671.8,166.4 671.85,166.4 671.9,166.4 671.95,166.4 672,166.4 672.06,166.4 672.11,166.4 672.16,166.4 672.21,166.4 672.26,166.4 672.31,166.4 672.36,166.4 672.41,166.4 672.46,166.4 672.51,166.4 672.56,166.4 672.61,166.4 672.66,166.4 672.71,166.4 672.76,166.4 672.81,166.4 672.86,166.4 672.91,166.4 672.96,166.4 673.01,166.4 673.06,166.4 673.11,166.4 673.16,166.4 673.21,166.4 673.26,166.4 673.31,166.4 673.36,166.4 673.41,166.4 673.46,166.4 673.51,166.4 673.56,166.4 673.61,166.4 673.66,166.4 673.71,166.4 673.76,166.4 673.81,166.4 673.86,166.4 673.91,166.4 673.96,166.4 674.01,166.4 674.07,166.4 674.12,166.4 674.17,166.4 674.22,166.4 674.27,166.4 674.32,166.4 674.37,166.4 674.42,166.4 674.47,166.4 674.52,166.4 674.57,166.4 674.62,166.4 674.67,166.4 674.72,166.4 674.77,166.4 674.82,166.4 674.87,166.4 674.92,166.4 674.97,166.4 675.02,166.4 675.07,166.4 675.12,166.4 675.17,166.4 675.22,166.4 675.27,166.4 675.32,166.4 675.37,166.4 675.42,166.4 675.47,166.4 675.52,166.4 675.57,166.4 675.62,166.4 675.67,166.4 675.72,166.4 675.77,166.4 675.82,166.4 675.87,166.4 675.92,166.4 675.97,166.4 676.02,166.4 676.08,166.4 676.13,166.4 676.18,166.4 676.23,166.4 676.28,166.4 676.33,166.4 676.38,166.4 676.43,166.4 676.48,166.4 676.53,166.4 676.58,166.4 676.63,166.4 676.68,166.4 676.73,166.4 676.78,166.4 676.83,166.4 676.88,166.4 676.93,166.4 676.98,166.4 677.03,166.4 677.08,166.4 677.13,166.4 677.18,166.4 677.23,166.4 677.28,166.4 677.33,166.4 677.38,166.4 677.43,166.4 677.48,166.4 677.53,166.4 677.58,166.4 677.63,166.4 677.68,166.4 677.73,166.4 677.78,166.4 677.83,166.4 677.88,166.4 677.93,166.4 677.98,166.4 678.03,166.4 678.09,166.4 678.14,166.4 678.19,166.4 678.24,166.4 678.29,166.4 678.34,166.4 678.39,166.4 678.44,166.4 678.49,166.4 678.54,166.4 678.59,166.4 678.64,166.4 678.69,166.4 678.74,166.4 678.79,166.4 678.84,166.4 678.89,166.4 678.94,166.4 678.99,166.4 679.04,166.4 679.09,166.4 679.14,166.4 679.19,166.4 679.24,166.4 679.29,166.4 679.34,166.4 679.39,166.4 679.44,166.4 679.49,166.4 679.54,166.4 679.59,166.4 679.64,166.4 679.69,166.4 679.74,166.4 679.79,166.4 679.84,166.4 679.89,166.4 679.94,166.4 679.99,166.4 680.04,166.4 680.1,166.4 680.15,166.4 680.2,166.4 680.25,166.4 680.3,166.4 680.35,166.4 680.4,166.4 680.45,166.4 680.5,166.4 680.55,166.4 680.6,166.4 680.65,166.4 680.7,166.4 680.75,166.4 680.8,166.4 680.85,166.4 680.9,166.4 680.95,166.4 681,166.4 681.05,166.4 681.1,166.4" fill="none" stroke="#2a7d64" stroke-width="1.0" stroke-linejoin="round" />
<polyline clip-path="url(#cb3)" points="600.7,86.87 601.1,90.53 601.5,88.53 601.91,93.81 602.31,89.32 602.71,94.55 603.11,90.72 603.51,95.05 603.92,91.84 604.32,96.96 604.72,93.13 605.12,98.56 605.52,94.42 605.93,99.3 606.33,96.35 606.73,98.98 607.13,95.95 607.53,99.44 607.94,96.45 608.34,101.11 608.74,97.69 609.14,101.97 609.54,98.13 609.95,102.6 610.35,97.4 610.75,101.18 611.15,97.96 611.55,103.03 611.96,99.2 612.36,103.38 612.76,99.88 613.16,104.76 613.56,99.78 613.97,105.64 614.37,101.36 614.77,104.47 615.17,101.26 615.57,105.98 615.98,102.57 616.38,107.57 616.78,103.03 617.18,107.8 617.58,105.89 617.99,110.7 618.39,107.4 618.79,112.57 619.19,109 619.59,113.2 620,110.86 620.4,113.67 620.8,111.46 621.2,116.95 621.6,113.94 622.01,119.85 622.41,116.63 622.81,123.08 623.21,119.32 623.61,124.01 624.02,121.89 624.42,124.84 624.82,123.58 625.22,128.62 625.62,123.95 626.03,129.84 626.43,126.37 626.83,130.76 627.23,127.51 627.63,132.57 628.04,129.46 628.44,130.05 628.84,130.63 629.24,131.22 629.64,131.96 630.05,132.74 630.45,133.51 630.85,134.29 631.25,135.06 631.65,135.83 632.06,136.58 632.46,137.14 632.86,137.71 633.26,138.27 633.66,138.84 634.07,139.41 634.47,139.97 634.87,140.54 635.27,141.1 635.67,141.68 636.08,142.25 636.48,142.83 636.88,143.4 637.28,143.97 637.68,144.55 638.09,145.11 638.49,145.62 638.89,146.13 639.29,146.64 639.69,147.15 640.1,147.65 640.5,148.16 640.9,148.67 641.3,149.15 641.7,149.63 642.11,150.1 642.51,150.57 642.91,151.04 643.31,151.52 643.71,151.99 644.12,152.46 644.52,152.93 644.92,153.41 645.32,153.76 645.72,154.09 646.13,154.42 646.53,154.75 646.93,155.08 647.33,155.41 647.73,155.74 648.14,156.07 648.54,156.4 648.94,156.73 649.34,157.06 649.74,157.39 650.15,157.68 650.55,157.92 650.95,158.15 651.35,158.38 651.75,158.62 652.16,158.85 652.56,159.08 652.96,159.32 653.36,159.55 653.76,159.78 654.17,160.02 654.57,160.25 654.97,160.48 655.37,160.65 655.77,160.81 656.18,160.97 656.58,161.13 656.98,161.29 657.38,161.45 657.78,161.61 658.19,161.77 658.59,161.94 658.99,162.1 659.39,162.26 659.79,162.42 660.2,162.55 660.6,162.65 661,162.75 661.4,162.86 661.8,162.96 662.21,163.06 662.61,163.16 663.01,163.26 663.41,163.37 663.81,163.47 664.22,163.57 664.62,163.67 665.02,163.77 665.42,163.88 665.82,163.98 666.23,164.08 666.63,164.18 667.03,164.26 667.43,164.34 667.83,164.42 668.24,164.49 668.64,164.57 669.04,164.65 669.44,164.72 669.84,164.8 670.25,164.88 670.65,164.95 671.05,165.03 671.45,165.11 671.85,165.18 672.26,165.26 672.66,165.33 673.06,165.41 673.46,165.44 673.86,165.48 674.27,165.52 674.67,165.56 675.07,165.59 675.47,165.63 675.87,165.67 676.28,165.71 676.68,165.75 677.08,165.78 677.48,165.82 677.88,165.86 678.29,165.9 678.69,165.94 679.09,165.97 679.49,166.01 679.89,166.05 680.3,166.09 680.7,166.12 681.1,166.16" fill="none" stroke="#cf6338" stroke-width="1.1" stroke-linejoin="round" />
<path d="M600.7 176.7v-1.6 M600.7 103v1.6 M620.8 176.7v-1.6 M620.8 103v1.6 M640.9 176.7v-1.6 M640.9 103v1.6 M661 176.7v-1.6 M661 103v1.6 M681.1 176.7v-1.6 M681.1 103v1.6 M600.7 166.7h1.6 M681.1 166.7h-1.6 M600.7 145.45h1.6 M681.1 145.45h-1.6 M600.7 124.2h1.6 M681.1 124.2h-1.6" stroke="#262626" stroke-width="0.8" fill="none"/>
<rect x="600.7" y="103" width="80.4" height="73.7" fill="none" stroke="#262626" stroke-width="0.85"/>
<text x="596.8" y="128.3" font-family='"Liberation Serif", serif' font-size="12.4" text-anchor="end" fill="#1a1a1a"  >0.02</text>
<text x="596.8" y="171" font-family='"Liberation Serif", serif' font-size="12.4" text-anchor="end" fill="#1a1a1a"  >0</text>
<text x="651.8" y="115.5" font-family='"Liberation Sans", sans-serif' font-size="10.3" text-anchor="start" fill="#1a1a1a"  stroke="#1a1a1a" stroke-width="0.2">(b-iii)</text>
<text x="600.7" y="190.9" font-family='"Liberation Serif", serif' font-size="12.4" text-anchor="middle" fill="#1a1a1a"  >−2</text>
<text x="640.9" y="190.9" font-family='"Liberation Serif", serif' font-size="12.4" text-anchor="middle" fill="#1a1a1a"  >0</text>
<text x="681.1" y="190.9" font-family='"Liberation Serif", serif' font-size="12.4" text-anchor="middle" fill="#1a1a1a"  >2</text>
<text transform="translate(632.2 206.2) scale(1.19 1)" x="0" y="0" font-family='"Liberation Serif", serif' font-size="12.5" fill="#1a1a1a" font-style="italic">U<tspan font-size="9.25" dy="3" dx="-0.5">g</tspan><tspan dy="-3" dx="0.75">/t</tspan></text>
<g transform="translate(580 151) rotate(-90)"><text x="-16.01" y="0" font-family='"Liberation Serif", serif' font-size="12.6" font-style="italic">G</text><path d="M-5.66 -2.52 V3.78 M-7.36 2.02 L-5.66 4.03 L-3.96 2.02" stroke="#1a1a1a" stroke-width="0.8" fill="none"/><text x="-2.63" y="0" font-family='"Liberation Serif", serif' font-size="12.6" font-style="italic">/G</text><text x="10.6" y="2.27" font-family='"Liberation Serif", serif' font-size="9.32">0</text></g>
<clipPath id="cb4"><rect x="373.5" y="214.3" width="307.9" height="111.2"/></clipPath>
<path d="M373.5 225.3H681.4M373.5 315.2H681.4" stroke="#a8a8a8" stroke-width="0.8" stroke-dasharray="3 2.6"/>
<polyline clip-path="url(#cb4)" points="373.5,225.3 410,225.9 425.8,226.4 432.8,228 439.8,228.9 445,230.3 451.2,231.1 457.3,233.4 460.8,228.5 466.9,237.3 471,234.3 476.2,239 483.6,234.3 489.7,234.1 492,235.5 495.5,240.8 497.6,241.1 501.1,238.1 504.6,243.1 508.1,241.3 513.4,243.9 516.5,241.1 520,245.7 526,236.9 527.1,237.3 532,241.1 535.5,246.9 541.6,240.4 544.6,242.5 548.1,237.3 551.3,238.7 554.4,246.4 557.4,244.6 562.7,246.9 566.5,242.2 569.7,250.1 575.8,255.7 581.9,250.9 586.3,252.7 591.2,258.3 594.7,253 597.7,254.4 600,252.3 603.1,251.1 606.8,255.4 609.9,251.3 613,252.3 619.2,248 622.3,251.1 625.4,242.1 631.6,242.4 634.7,251.1 637.8,251.3 644,256.6 650.3,257.5 653.4,254.2 656.5,257.5 659.6,254.5 662.7,256.6 665.1,255.4 668.9,250.8 672,252.1 678.2,247.3 681.4,248.6" fill="none" stroke="#4dbd6b" stroke-width="1.0" stroke-linejoin="round"/>
<polyline clip-path="url(#cb4)" points="373.5,315.2 421,315.1 440,314.4 448.8,314.4 452.3,313.4 457.5,313.6 466.3,312.3 476.8,311.8 482,308.7 485.9,310.8 497.8,310.1 501.3,308.3 506.6,309 510.4,305.7 514.5,309.5 517.1,308.7 520.2,305.5 523.2,307.8 526.7,305.5 529.3,305.7 532.5,304.3 536,307.4 539,306.4 543.4,307.3 548.6,304.3 552.1,305.2 556.9,306.8 562.6,301.2 566.4,299.3 570.2,303.6 573,304.6 578.7,301.7 582.1,305.5 585.4,302.3 588.2,303.6 592,301.2 598.7,300.4 603.4,301.7 606.2,300.8 611.9,296 615.4,297 619.5,295.1 625.2,299.8 629,299.4 631.9,300.8 634.7,297.9 637.9,296.6 641.4,301.2 644.2,301.7 649,299.8 654.6,297.9 659,295.1 664.1,297 669.8,297 673.6,294.1 677.4,291.3 681.4,286.3" fill="none" stroke="#9b72c9" stroke-width="1.0" stroke-linejoin="round"/>
<path d="M373.5 325.5v-3 M373.5 214.3v3 M527.45 325.5v-3 M527.45 214.3v3 M681.4 325.5v-3 M681.4 214.3v3 M404.29 325.5v-1.6 M404.29 214.3v1.6 M435.08 325.5v-1.6 M435.08 214.3v1.6 M465.87 325.5v-1.6 M465.87 214.3v1.6 M496.66 325.5v-1.6 M496.66 214.3v1.6 M558.24 325.5v-1.6 M558.24 214.3v1.6 M589.03 325.5v-1.6 M589.03 214.3v1.6 M619.82 325.5v-1.6 M619.82 214.3v1.6 M650.61 325.5v-1.6 M650.61 214.3v1.6 M373.5 315.2h3 M681.4 315.2h-3 M373.5 270.2h3 M681.4 270.2h-3 M373.5 225.2h3 M681.4 225.2h-3 M373.5 292.7h1.6 M681.4 292.7h-1.6 M373.5 247.7h1.6 M681.4 247.7h-1.6" stroke="#262626" stroke-width="0.8" fill="none"/>
<rect x="373.5" y="214.3" width="307.9" height="111.2" fill="none" stroke="#262626" stroke-width="0.85"/>
<text x="369.5" y="229.5" font-family='"Liberation Serif", serif' font-size="12.4" text-anchor="end" fill="#1a1a1a"  >1</text>
<text x="369.5" y="274.5" font-family='"Liberation Serif", serif' font-size="12.4" text-anchor="end" fill="#1a1a1a"  >0</text>
<text x="369.5" y="319.5" font-family='"Liberation Serif", serif' font-size="12.4" text-anchor="end" fill="#1a1a1a"  >−1</text>
<text x="373.5" y="339.8" font-family='"Liberation Serif", serif' font-size="12.4" text-anchor="middle" fill="#1a1a1a"  >0</text>
<text x="527.45" y="339.8" font-family='"Liberation Serif", serif' font-size="12.4" text-anchor="middle" fill="#1a1a1a"  >0.5</text>
<text x="681.4" y="339.8" font-family='"Liberation Serif", serif' font-size="12.4" text-anchor="middle" fill="#1a1a1a"  >1</text>
<text transform="translate(513.8 354.2) scale(1.21 1)" x="0" y="0" font-family='"Liberation Serif", serif' font-size="12.6" fill="#1a1a1a" font-style="italic">k<tspan font-size="8.82" dy="2.77" dx="0.25">B</tspan><tspan dy="-2.77" dx="0.5" letter-spacing="0">T/t</tspan></text>
<g transform="translate(355 270) rotate(-90)"><text x="0" y="4.2" font-family='"Liberation Serif", serif' font-size="12.5" font-style="italic" text-anchor="middle">P</text></g>
<text x="378.5" y="238.9" font-family='"Liberation Sans", sans-serif' font-size="10.3" text-anchor="start" fill="#1a1a1a"  stroke="#1a1a1a" stroke-width="0.2">(b-iv)</text>
<path d="M392.3 265.4h17.7" stroke="#9b72c9" stroke-width="1.1"/>
<path d="M392.3 282.4h17.7" stroke="#4dbd6b" stroke-width="1.1"/>
<text transform="translate(413.5 268.4) scale(1.2 1)" x="0" y="0" font-family='"Liberation Serif", serif' font-size="11.3" fill="#9b72c9" font-style="italic">U<tspan font-size="8.36" dy="2.71" dx="-0.45">g</tspan><tspan dy="-2.71" dx="0.68">/t</tspan></text>
<text transform="translate(440.7 268.4) scale(1.2 1)" x="0" y="0" font-family='"Liberation Serif", serif' font-size="11.3" fill="#9b72c9" letter-spacing="0">=</text>
<text transform="translate(452.6 268.4) scale(1.2 1)" x="0" y="0" font-family='"Liberation Serif", serif' font-size="10.4" fill="#9b72c9" letter-spacing="0">−1</text>
<text transform="translate(412.6 286.5) scale(1.2 1)" x="0" y="0" font-family='"Liberation Serif", serif' font-size="11.3" fill="#4dbd6b" font-style="italic">U<tspan font-size="8.36" dy="2.71" dx="-0.45">g</tspan><tspan dy="-2.71" dx="0.68">/t</tspan></text>
<text transform="translate(439.8 286.5) scale(1.2 1)" x="0" y="0" font-family='"Liberation Serif", serif' font-size="11.3" fill="#4dbd6b" letter-spacing="0">=</text>
<text transform="translate(451.2 286.5) scale(1.12 1)" x="0" y="0" font-family='"Liberation Serif", serif' font-size="10.4" fill="#4dbd6b" letter-spacing="0">1</text></svg>
</body></html>
